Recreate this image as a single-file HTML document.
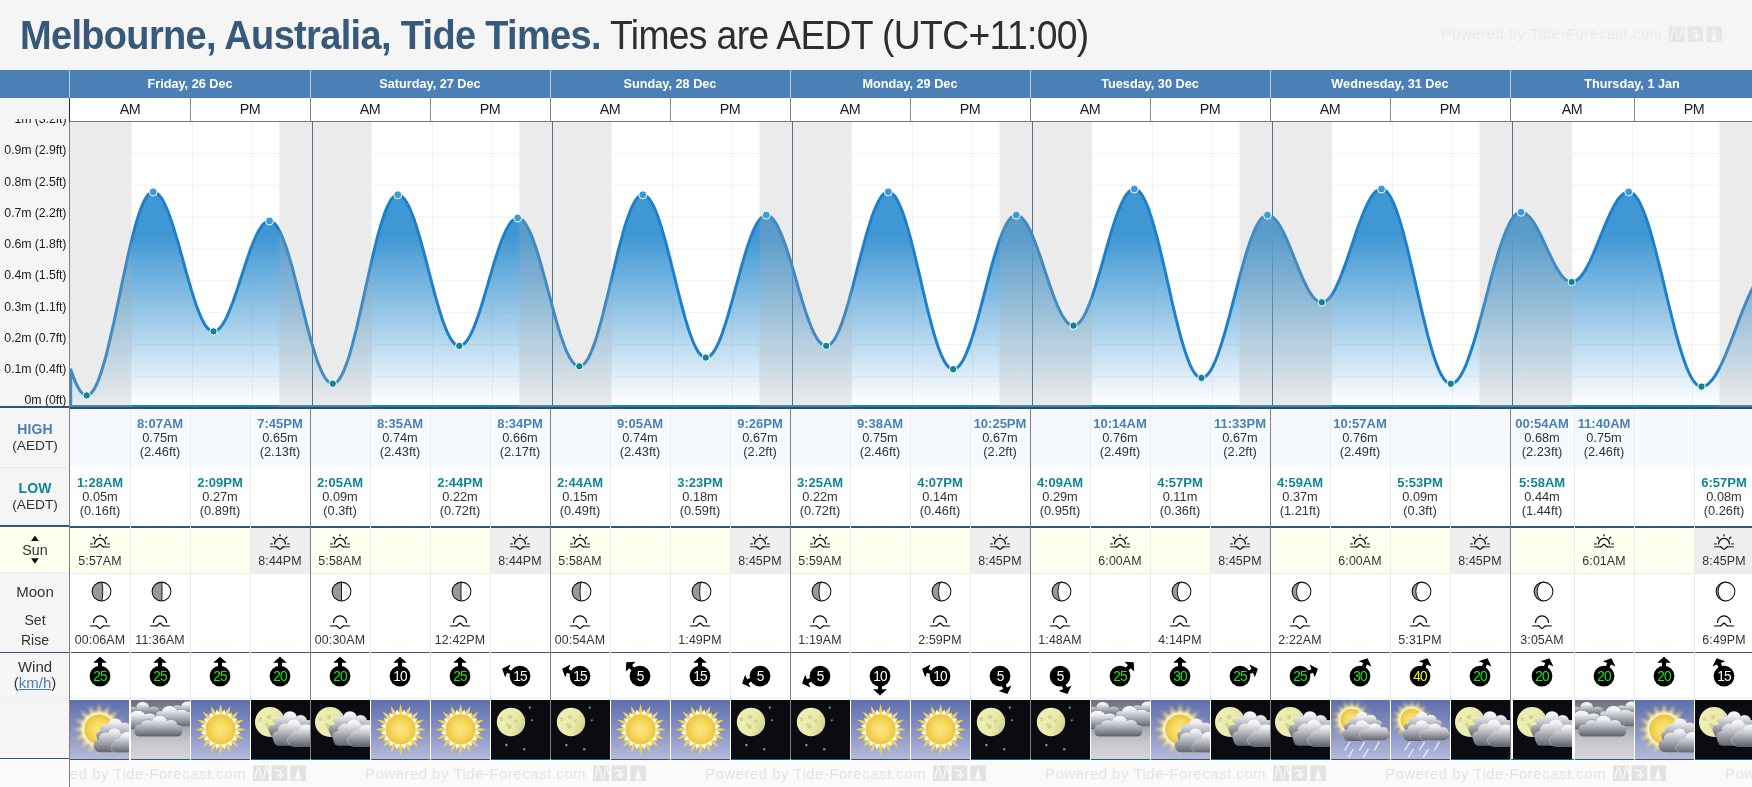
<!DOCTYPE html><html><head><meta charset="utf-8"><title>Melbourne Tide Times</title><style>
*{margin:0;padding:0;box-sizing:border-box}
html,body{width:1752px;height:787px;overflow:hidden;background:#f5f5f5}
body{font-family:"Liberation Sans",sans-serif;color:#333;position:relative}
.abs{position:absolute}
.t{position:absolute;white-space:nowrap;line-height:1;opacity:0.999}
.c{position:absolute;white-space:nowrap;line-height:1;text-align:center;transform:translateX(-50%);opacity:0.999}
</style></head><body>
<svg width="0" height="0" style="position:absolute;left:-10px;top:-10px"><defs><linearGradient id="skyd" x1="0" y1="0" x2="0" y2="1"><stop offset="0" stop-color="#5e6fad"/><stop offset="0.5" stop-color="#8791c2"/><stop offset="1" stop-color="#b3badb"/></linearGradient><linearGradient id="skyc" x1="0" y1="0" x2="0" y2="1"><stop offset="0" stop-color="#67717e"/><stop offset="0.45" stop-color="#a3a6ac"/><stop offset="0.7" stop-color="#c6c7cb"/><stop offset="1" stop-color="#d6d6da"/></linearGradient><radialGradient id="sung" cx="0.5" cy="0.5" r="0.5"><stop offset="0" stop-color="#fbe67e"/><stop offset="0.6" stop-color="#f5d75c"/><stop offset="1" stop-color="#eec33c"/></radialGradient><linearGradient id="moong" x1="0" y1="0.3" x2="1" y2="0.7"><stop offset="0" stop-color="#efefb6"/><stop offset="0.6" stop-color="#eaeaac"/><stop offset="1" stop-color="#cfcf90"/></linearGradient><filter id="bl1" x="-30%" y="-30%" width="160%" height="160%"><feGaussianBlur stdDeviation="1.35"/></filter><filter id="bl2" x="-30%" y="-30%" width="160%" height="160%"><feGaussianBlur stdDeviation="1.6"/></filter><filter id="bl05" x="-10%" y="-10%" width="120%" height="120%"><feGaussianBlur stdDeviation="0.35"/></filter><symbol id="w_sun" viewBox="0 0 59 59"><rect width="59" height="59" fill="url(#skyd)"/><path d="M29.60,4.00 L32.60,15.40 L26.60,15.40 Z M39.32,5.93 L37.73,17.61 L32.19,15.32 Z M47.56,11.44 L41.62,21.62 L37.38,17.38 Z M53.07,19.68 L43.68,26.81 L41.39,21.27 Z M55.00,29.40 L43.60,32.40 L43.60,26.40 Z M53.07,39.12 L41.39,37.53 L43.68,31.99 Z M47.56,47.36 L37.38,41.42 L41.62,37.18 Z M39.32,52.87 L32.19,43.48 L37.73,41.19 Z M29.60,54.80 L26.60,43.40 L32.60,43.40 Z M19.88,52.87 L21.47,41.19 L27.01,43.48 Z M11.64,47.36 L17.58,37.18 L21.82,41.42 Z M6.13,39.12 L15.52,31.99 L17.81,37.53 Z M4.20,29.40 L15.60,26.40 L15.60,32.40 Z M6.13,19.68 L17.81,21.27 L15.52,26.81 Z M11.64,11.44 L21.82,17.38 L17.58,21.62 Z M19.88,5.93 L27.01,15.32 L21.47,17.61 Z " fill="#f1d44e"/><path d="M33.54,9.59 L35.37,16.27 L29.29,15.06 Z M40.82,12.60 L39.96,19.48 L34.80,16.04 Z M46.40,18.18 L42.96,24.20 L39.52,19.04 Z M49.41,25.46 L43.94,29.71 L42.73,23.63 Z M49.41,33.34 L42.73,35.17 L43.94,29.09 Z M46.40,40.62 L39.52,39.76 L42.96,34.60 Z M40.82,46.20 L34.80,42.76 L39.96,39.32 Z M33.54,49.21 L29.29,43.74 L35.37,42.53 Z M25.66,49.21 L23.83,42.53 L29.91,43.74 Z M18.38,46.20 L19.24,39.32 L24.40,42.76 Z M12.80,40.62 L16.24,34.60 L19.68,39.76 Z M9.79,33.34 L15.26,29.09 L16.47,35.17 Z M9.79,25.46 L16.47,23.63 L15.26,29.71 Z M12.80,18.18 L19.68,19.04 L16.24,24.20 Z M18.38,12.60 L24.40,16.04 L19.24,19.48 Z M25.66,9.59 L29.91,15.06 L23.83,16.27 Z " fill="#fff"/><circle cx="29.6" cy="29.4" r="15.1" fill="url(#sung)"/></symbol><linearGradient id="cg1" gradientUnits="userSpaceOnUse" x1="0" y1="17" x2="0" y2="44"><stop offset="0" stop-color="#ffffff"/><stop offset="0.22" stop-color="#ececf1"/><stop offset="0.58" stop-color="#a9acb4"/><stop offset="1" stop-color="#5f636b"/></linearGradient><linearGradient id="cg2" gradientUnits="userSpaceOnUse" x1="0" y1="26" x2="0" y2="52.5"><stop offset="0" stop-color="#ffffff"/><stop offset="0.22" stop-color="#ececf1"/><stop offset="0.58" stop-color="#a9acb4"/><stop offset="1" stop-color="#5f636b"/></linearGradient><linearGradient id="cg3" gradientUnits="userSpaceOnUse" x1="0" y1="31" x2="0" y2="53"><stop offset="0" stop-color="#ffffff"/><stop offset="0.22" stop-color="#ececf1"/><stop offset="0.58" stop-color="#a9acb4"/><stop offset="1" stop-color="#5f636b"/></linearGradient><symbol id="w_pcd" viewBox="0 0 59 59"><rect width="59" height="59" fill="url(#skyd)"/><g filter="url(#bl1)"><path d="M29.10,3.80 L32.40,16.40 L25.80,16.40 Z M38.90,5.75 L37.12,18.65 L31.03,16.13 Z M47.20,11.30 L40.63,22.54 L35.96,17.87 Z M52.75,19.60 L42.37,27.47 L39.85,21.38 Z M54.70,29.40 L42.10,32.70 L42.10,26.10 Z M52.75,39.20 L39.85,37.42 L42.37,31.33 Z M47.20,47.50 L35.96,40.93 L40.63,36.26 Z M38.90,53.05 L31.03,42.67 L37.12,40.15 Z M29.10,55.00 L25.80,42.40 L32.40,42.40 Z M19.30,53.05 L21.08,40.15 L27.17,42.67 Z M11.00,47.50 L17.57,36.26 L22.24,40.93 Z M5.45,39.20 L15.83,31.33 L18.35,37.42 Z M3.50,29.40 L16.10,26.10 L16.10,32.70 Z M5.45,19.60 L18.35,21.38 L15.83,27.47 Z M11.00,11.30 L22.24,17.87 L17.57,22.54 Z M19.30,5.75 L27.17,16.13 L21.08,18.65 Z " fill="#f5e070"/></g><circle cx="29.1" cy="29.4" r="17.2" fill="#fffce8" filter="url(#bl1)"/><circle cx="29.1" cy="29.4" r="14.9" fill="url(#sung)"/><g filter="url(#bl05)"><g fill="url(#cg1)"><ellipse cx="45" cy="24.9" rx="7.118999999999999" ry="6.3"/><rect x="39.30" y="24.9" width="11.39" height="13.60"/><ellipse cx="36.6" cy="29.8" rx="6.553999999999999" ry="5.8"/><rect x="31.36" y="29.8" width="10.49" height="8.70"/><ellipse cx="54.5" cy="28.2" rx="6.327999999999999" ry="5.6"/><rect x="49.44" y="28.2" width="10.12" height="10.30"/><ellipse cx="31" cy="35.5" rx="4.7459999999999996" ry="4.2"/><rect x="27.20" y="35.5" width="7.59" height="3.00"/><ellipse cx="59" cy="33" rx="5.6499999999999995" ry="5"/><rect x="54.48" y="33" width="9.04" height="5.50"/><rect x="27.5" y="33.0" width="38.5" height="11.0" rx="5.5"/></g><g fill="url(#cg2)"><ellipse cx="44.4" cy="34.2" rx="6.327999999999999" ry="5.6"/><rect x="39.34" y="34.2" width="10.12" height="12.60"/><ellipse cx="35.6" cy="38.4" rx="6.779999999999999" ry="6"/><rect x="30.18" y="38.4" width="10.85" height="8.40"/><ellipse cx="29.4" cy="45" rx="5.8759999999999994" ry="5.2"/><rect x="24.70" y="45" width="9.40" height="1.80"/><ellipse cx="51" cy="38" rx="5.084999999999999" ry="4.5"/><rect x="46.93" y="38" width="8.14" height="8.80"/><rect x="24.5" y="41.3" width="41.5" height="11.0" rx="5.5"/></g><g fill="#c4c6ce"><ellipse cx="57.5" cy="38.5" rx="7.744999999999999" ry="6.9"/><rect x="51.22" y="38.5" width="12.55" height="8.60"/><ellipse cx="49" cy="44" rx="6.05" ry="5.4"/><rect x="44.08" y="44" width="9.84" height="3.10"/><ellipse cx="45.5" cy="48" rx="4.92" ry="4.4"/><rect x="41.1" y="41.2" width="25.3" height="11.8" rx="5.9"/></g><g fill="url(#cg3)"><ellipse cx="57.5" cy="38.5" rx="7.344999999999999" ry="6.5"/><rect x="51.62" y="38.5" width="11.75" height="8.60"/><ellipse cx="49" cy="44" rx="5.6499999999999995" ry="5"/><rect x="44.48" y="44" width="9.04" height="3.10"/><ellipse cx="45.5" cy="48" rx="4.52" ry="4"/><rect x="41.5" y="41.6" width="24.5" height="11.0" rx="5.5"/></g></g></symbol><linearGradient id="cc1" gradientUnits="userSpaceOnUse" x1="0" y1="1.5" x2="0" y2="15"><stop offset="0" stop-color="#ffffff"/><stop offset="0.22" stop-color="#ececf1"/><stop offset="0.58" stop-color="#a9acb4"/><stop offset="1" stop-color="#6a6f78"/></linearGradient><linearGradient id="cc2" gradientUnits="userSpaceOnUse" x1="0" y1="5.5" x2="0" y2="27"><stop offset="0" stop-color="#ffffff"/><stop offset="0.22" stop-color="#ececf1"/><stop offset="0.58" stop-color="#a9acb4"/><stop offset="1" stop-color="#5d626b"/></linearGradient><linearGradient id="cc3" gradientUnits="userSpaceOnUse" x1="0" y1="10.5" x2="0" y2="30"><stop offset="0" stop-color="#ffffff"/><stop offset="0.22" stop-color="#ececf1"/><stop offset="0.58" stop-color="#a9acb4"/><stop offset="1" stop-color="#5d626b"/></linearGradient><linearGradient id="cc4" gradientUnits="userSpaceOnUse" x1="0" y1="15" x2="0" y2="36.5"><stop offset="0" stop-color="#ffffff"/><stop offset="0.22" stop-color="#ececf1"/><stop offset="0.58" stop-color="#a9acb4"/><stop offset="1" stop-color="#5a5f68"/></linearGradient><symbol id="w_cld" viewBox="0 0 59 59"><rect width="59" height="59" fill="url(#skyc)"/><g filter="url(#bl05)"><g fill="#8b9098"><ellipse cx="11.7" cy="7.4" rx="6.7" ry="5.800000000000001"/><rect x="6.26" y="7.4" width="10.88" height="6.10"/><ellipse cx="22.6" cy="10.4" rx="5.9" ry="4.0"/><rect x="17.80" y="10.4" width="9.60" height="3.10"/><ellipse cx="2" cy="11" rx="5.4" ry="4.4"/><rect x="-2.40" y="11" width="8.80" height="2.50"/><rect x="-8.4" y="9.6" width="37.8" height="7.8" rx="3.9"/></g><g fill="url(#cc1)"><ellipse cx="11.7" cy="7.4" rx="6.3" ry="5.4"/><rect x="6.66" y="7.4" width="10.08" height="6.10"/><ellipse cx="22.6" cy="10.4" rx="5.5" ry="3.6"/><rect x="18.20" y="10.4" width="8.80" height="3.10"/><ellipse cx="2" cy="11" rx="5" ry="4"/><rect x="-2.00" y="11" width="8.00" height="2.50"/><rect x="-8" y="10.0" width="37" height="7.0" rx="3.5"/></g><g fill="#8b9098"><ellipse cx="56.5" cy="6.6" rx="6.6000000000000005" ry="5.6000000000000005"/><rect x="51.14" y="6.6" width="10.72" height="6.90"/><ellipse cx="46.5" cy="9" rx="5.6000000000000005" ry="3.8"/><rect x="41.94" y="9" width="9.12" height="4.50"/><rect x="40.6" y="9.6" width="29.8" height="7.8" rx="3.9"/></g><g fill="url(#cc1)"><ellipse cx="56.5" cy="6.6" rx="6.2" ry="5.2"/><rect x="51.54" y="6.6" width="9.92" height="6.90"/><ellipse cx="46.5" cy="9" rx="5.2" ry="3.4"/><rect x="42.34" y="9" width="8.32" height="4.50"/><rect x="41" y="10.0" width="29" height="7.0" rx="3.5"/></g><g fill="#8b9098"><ellipse cx="38.6" cy="11.6" rx="8.0" ry="6.0"/><rect x="32.12" y="11.6" width="12.96" height="8.90"/><ellipse cx="50.5" cy="14.2" rx="7.2" ry="4.800000000000001"/><rect x="44.66" y="14.2" width="11.68" height="6.30"/><ellipse cx="29.6" cy="14.4" rx="4.800000000000001" ry="3.6"/><rect x="25.68" y="14.4" width="7.84" height="6.10"/><ellipse cx="58" cy="16" rx="5.4" ry="4.4"/><rect x="53.60" y="16" width="8.80" height="4.50"/><rect x="26.1" y="14.6" width="44.3" height="11.8" rx="5.9"/></g><g fill="url(#cc2)"><ellipse cx="38.6" cy="11.6" rx="7.6" ry="5.6"/><rect x="32.52" y="11.6" width="12.16" height="8.90"/><ellipse cx="50.5" cy="14.2" rx="6.8" ry="4.4"/><rect x="45.06" y="14.2" width="10.88" height="6.30"/><ellipse cx="29.6" cy="14.4" rx="4.4" ry="3.2"/><rect x="26.08" y="14.4" width="7.04" height="6.10"/><ellipse cx="58" cy="16" rx="5" ry="4"/><rect x="54.00" y="16" width="8.00" height="4.50"/><rect x="26.5" y="15.0" width="43.5" height="11.0" rx="5.5"/></g><g fill="#8b9098"><ellipse cx="6.7" cy="15.6" rx="7.800000000000001" ry="5.2"/><rect x="0.38" y="15.6" width="12.64" height="7.90"/><ellipse cx="18.5" cy="17.2" rx="6.800000000000001" ry="4.2"/><rect x="12.98" y="17.2" width="11.04" height="6.30"/><ellipse cx="25" cy="20" rx="3.4" ry="3.4"/><rect x="22.20" y="20" width="5.60" height="3.50"/><rect x="-8.4" y="17.6" width="35.8" height="11.8" rx="5.9"/></g><g fill="url(#cc3)"><ellipse cx="6.7" cy="15.6" rx="7.4" ry="4.8"/><rect x="0.78" y="15.6" width="11.84" height="7.90"/><ellipse cx="18.5" cy="17.2" rx="6.4" ry="3.8"/><rect x="13.38" y="17.2" width="10.24" height="6.30"/><ellipse cx="25" cy="20" rx="3" ry="3"/><rect x="22.60" y="20" width="4.80" height="3.50"/><rect x="-8" y="18.0" width="35" height="11.0" rx="5.5"/></g><g fill="#8b9098"><ellipse cx="28.5" cy="21.6" rx="7.800000000000001" ry="6.4"/><rect x="22.18" y="21.6" width="12.64" height="10.10"/><ellipse cx="16.8" cy="24.4" rx="7.2" ry="4.800000000000001"/><rect x="10.96" y="24.4" width="11.68" height="7.30"/><ellipse cx="39.6" cy="24.4" rx="6.800000000000001" ry="4.800000000000001"/><rect x="34.08" y="24.4" width="11.04" height="7.30"/><ellipse cx="8.6" cy="28.4" rx="5.0" ry="4.4"/><rect x="4.52" y="28.4" width="8.16" height="3.30"/><ellipse cx="46.8" cy="29" rx="4.4" ry="4.4"/><rect x="43.20" y="29" width="7.20" height="2.70"/><rect x="3.4" y="26.800000000000004" width="47.8" height="9.8" rx="4.9"/></g><g fill="url(#cc4)"><ellipse cx="28.5" cy="21.6" rx="7.4" ry="6"/><rect x="22.58" y="21.6" width="11.84" height="10.10"/><ellipse cx="16.8" cy="24.4" rx="6.8" ry="4.4"/><rect x="11.36" y="24.4" width="10.88" height="7.30"/><ellipse cx="39.6" cy="24.4" rx="6.4" ry="4.4"/><rect x="34.48" y="24.4" width="10.24" height="7.30"/><ellipse cx="8.6" cy="28.4" rx="4.6" ry="4"/><rect x="4.92" y="28.4" width="7.36" height="3.30"/><ellipse cx="46.8" cy="29" rx="4" ry="4"/><rect x="43.60" y="29" width="6.40" height="2.70"/><rect x="3.8" y="27.200000000000003" width="47.0" height="9.0" rx="4.5"/></g></g></symbol><symbol id="w_ngt" viewBox="0 0 59 59"><rect width="59" height="59" fill="#0b0b12"/><circle cx="20" cy="22" r="14.2" fill="url(#moong)"/><g fill="#d0d08e" opacity="0.85"><circle cx="19" cy="17" r="2.3"/><circle cx="10.5" cy="19" r="1.9"/><circle cx="24.5" cy="21" r="2.1"/><circle cx="18.5" cy="26.6" r="2.4"/><circle cx="16.4" cy="24.4" r="1.4"/></g><g fill="#8d8d7c"><circle cx="38.8" cy="7.7" r="1.15"/><circle cx="40.8" cy="20.2" r="1"/><circle cx="15.4" cy="45.1" r="1.3"/><circle cx="33.2" cy="49.2" r="1.2"/></g></symbol><linearGradient id="ng1" gradientUnits="userSpaceOnUse" x1="0" y1="10.5" x2="0" y2="37"><stop offset="0" stop-color="#ffffff"/><stop offset="0.22" stop-color="#ececf1"/><stop offset="0.58" stop-color="#a9acb4"/><stop offset="1" stop-color="#5f636b"/></linearGradient><linearGradient id="ng2" gradientUnits="userSpaceOnUse" x1="0" y1="18" x2="0" y2="46"><stop offset="0" stop-color="#ffffff"/><stop offset="0.22" stop-color="#ececf1"/><stop offset="0.58" stop-color="#a9acb4"/><stop offset="1" stop-color="#5f636b"/></linearGradient><linearGradient id="ng3" gradientUnits="userSpaceOnUse" x1="0" y1="23" x2="0" y2="46.3"><stop offset="0" stop-color="#ffffff"/><stop offset="0.22" stop-color="#ececf1"/><stop offset="0.58" stop-color="#a9acb4"/><stop offset="1" stop-color="#5f636b"/></linearGradient><symbol id="w_ncl" viewBox="0 0 59 59"><rect width="59" height="59" fill="#0b0b12"/><circle cx="19" cy="22" r="15" fill="url(#moong)"/><g fill="#d0d08e" opacity="0.85"><circle cx="18" cy="17" r="2.3"/><circle cx="9.5" cy="19" r="1.9"/><circle cx="23.5" cy="21" r="2.1"/><circle cx="17.5" cy="26.6" r="2.4"/><circle cx="15.4" cy="24.4" r="1.4"/></g><g filter="url(#bl05)"><g fill="url(#ng1)"><ellipse cx="39" cy="17.2" rx="6.779999999999999" ry="6"/><rect x="33.58" y="17.2" width="10.85" height="14.30"/><ellipse cx="29.6" cy="22.2" rx="6.327999999999999" ry="5.6"/><rect x="24.54" y="22.2" width="10.12" height="9.30"/><ellipse cx="49.6" cy="20.6" rx="6.327999999999999" ry="5.6"/><rect x="44.54" y="20.6" width="10.12" height="10.90"/><ellipse cx="22.6" cy="29.5" rx="5.1979999999999995" ry="4.6"/><rect x="18.44" y="29.5" width="8.32" height="2.00"/><ellipse cx="57" cy="25" rx="5.6499999999999995" ry="5"/><rect x="52.48" y="25" width="9.04" height="6.50"/><rect x="18.5" y="26.0" width="47.5" height="11.0" rx="5.5"/></g><g fill="url(#ng2)"><ellipse cx="42.8" cy="25.6" rx="6.779999999999999" ry="6"/><rect x="37.38" y="25.6" width="10.85" height="14.70"/><ellipse cx="34" cy="29.8" rx="7.005999999999999" ry="6.2"/><rect x="28.40" y="29.8" width="11.21" height="10.50"/><ellipse cx="27.4" cy="36.4" rx="6.101999999999999" ry="5.4"/><rect x="22.52" y="36.4" width="9.76" height="3.90"/><ellipse cx="50" cy="29" rx="5.084999999999999" ry="4.5"/><rect x="45.93" y="29" width="8.14" height="11.30"/><rect x="22.5" y="34.8" width="43.5" height="11.0" rx="5.5"/></g><g fill="#c4c6ce"><ellipse cx="55" cy="31" rx="7.632" ry="6.800000000000001"/><rect x="48.81" y="31" width="12.37" height="9.70"/><ellipse cx="46" cy="35.6" rx="6.05" ry="5.4"/><rect x="41.08" y="35.6" width="9.84" height="5.10"/><ellipse cx="41.5" cy="40.6" rx="5.372" ry="4.800000000000001"/><rect x="37.12" y="40.6" width="8.76" height="0.10"/><ellipse cx="62" cy="33" rx="6.05" ry="5.4"/><rect x="57.08" y="33" width="9.84" height="7.70"/><rect x="36.800000000000004" y="34.800000000000004" width="29.599999999999998" height="11.8" rx="5.9"/></g><g fill="url(#ng3)"><ellipse cx="55" cy="31" rx="7.231999999999999" ry="6.4"/><rect x="49.21" y="31" width="11.57" height="9.70"/><ellipse cx="46" cy="35.6" rx="5.6499999999999995" ry="5"/><rect x="41.48" y="35.6" width="9.04" height="5.10"/><ellipse cx="41.5" cy="40.6" rx="4.9719999999999995" ry="4.4"/><rect x="37.52" y="40.6" width="7.96" height="0.10"/><ellipse cx="62" cy="33" rx="5.6499999999999995" ry="5"/><rect x="57.48" y="33" width="9.04" height="7.70"/><rect x="37.2" y="35.2" width="28.799999999999997" height="11.0" rx="5.5"/></g></g></symbol><linearGradient id="rg1" gradientUnits="userSpaceOnUse" x1="0" y1="11.5" x2="0" y2="34"><stop offset="0" stop-color="#ffffff"/><stop offset="0.22" stop-color="#ececf1"/><stop offset="0.58" stop-color="#a9acb4"/><stop offset="1" stop-color="#5f636b"/></linearGradient><linearGradient id="rg2" gradientUnits="userSpaceOnUse" x1="0" y1="19.5" x2="0" y2="41"><stop offset="0" stop-color="#ffffff"/><stop offset="0.22" stop-color="#ececf1"/><stop offset="0.58" stop-color="#a9acb4"/><stop offset="1" stop-color="#5f636b"/></linearGradient><linearGradient id="rg3" gradientUnits="userSpaceOnUse" x1="0" y1="23" x2="0" y2="40.6"><stop offset="0" stop-color="#ffffff"/><stop offset="0.22" stop-color="#ececf1"/><stop offset="0.58" stop-color="#a9acb4"/><stop offset="1" stop-color="#5f636b"/></linearGradient><symbol id="w_rn" viewBox="0 0 59 59"><rect width="59" height="59" fill="url(#skyd)"/><g filter="url(#bl1)"><path d="M20.70,0.10 L23.40,10.10 L18.00,10.10 Z M28.35,1.62 L27.02,11.89 L22.03,9.83 Z M34.84,5.96 L29.68,14.94 L25.86,11.12 Z M39.18,12.45 L30.97,18.77 L28.91,13.78 Z M40.70,20.10 L30.70,22.80 L30.70,17.40 Z M39.18,27.75 L28.91,26.42 L30.97,21.43 Z M34.84,34.24 L25.86,29.08 L29.68,25.26 Z M28.35,38.58 L22.03,30.37 L27.02,28.31 Z M20.70,40.10 L18.00,30.10 L23.40,30.10 Z M13.05,38.58 L14.38,28.31 L19.37,30.37 Z M6.56,34.24 L11.72,25.26 L15.54,29.08 Z M2.22,27.75 L10.43,21.43 L12.49,26.42 Z M0.70,20.10 L10.70,17.40 L10.70,22.80 Z M2.22,12.45 L12.49,13.78 L10.43,18.77 Z M6.56,5.96 L15.54,11.12 L11.72,14.94 Z M13.05,1.62 L19.37,9.83 L14.38,11.89 Z " fill="#f5e070"/></g><circle cx="20.7" cy="20.1" r="13.3" fill="#fffce8" filter="url(#bl1)"/><circle cx="20.7" cy="20.1" r="11.3" fill="url(#sung)"/><g filter="url(#bl05)"><g fill="url(#rg1)"><ellipse cx="30.8" cy="17" rx="5.8759999999999994" ry="5.2"/><rect x="26.10" y="17" width="9.40" height="11.50"/><ellipse cx="39.8" cy="19.8" rx="5.6499999999999995" ry="5"/><rect x="35.28" y="19.8" width="9.04" height="8.70"/><ellipse cx="22.4" cy="21.6" rx="4.9719999999999995" ry="4.4"/><rect x="18.42" y="21.6" width="7.96" height="6.90"/><ellipse cx="46.4" cy="24" rx="4.7459999999999996" ry="4.2"/><rect x="42.60" y="24" width="7.59" height="4.50"/><ellipse cx="17" cy="27" rx="4.068" ry="3.6"/><rect x="13.75" y="27" width="6.51" height="1.50"/><rect x="14.5" y="23.0" width="35.5" height="11.0" rx="5.5"/></g><g fill="url(#rg2)"><ellipse cx="30.8" cy="25.8" rx="6.327999999999999" ry="5.6"/><rect x="25.74" y="25.8" width="10.12" height="9.70"/><ellipse cx="22.2" cy="29.2" rx="5.6499999999999995" ry="5"/><rect x="17.68" y="29.2" width="9.04" height="6.30"/><ellipse cx="16.4" cy="34" rx="5.1979999999999995" ry="4.6"/><rect x="12.24" y="34" width="8.32" height="1.50"/><ellipse cx="38" cy="28" rx="4.52" ry="4"/><rect x="34.38" y="28" width="7.23" height="7.50"/><rect x="12.2" y="30.0" width="31.8" height="11.0" rx="5.5"/></g><g fill="#c4c6ce"><ellipse cx="43.8" cy="29.2" rx="6.728" ry="6.0"/><rect x="38.34" y="29.2" width="10.92" height="5.90"/><ellipse cx="52" cy="31.6" rx="5.146" ry="4.6000000000000005"/><rect x="47.80" y="31.6" width="8.39" height="3.50"/><ellipse cx="35" cy="34" rx="5.372" ry="4.800000000000001"/><rect x="30.62" y="34" width="8.76" height="1.10"/><ellipse cx="55" cy="35.5" rx="4.468" ry="4.0"/><rect x="28.1" y="29.200000000000003" width="29.900000000000002" height="11.8" rx="5.9"/></g><g fill="url(#rg3)"><ellipse cx="43.8" cy="29.2" rx="6.327999999999999" ry="5.6"/><rect x="38.74" y="29.2" width="10.12" height="5.90"/><ellipse cx="52" cy="31.6" rx="4.7459999999999996" ry="4.2"/><rect x="48.20" y="31.6" width="7.59" height="3.50"/><ellipse cx="35" cy="34" rx="4.9719999999999995" ry="4.4"/><rect x="31.02" y="34" width="7.96" height="1.10"/><ellipse cx="55" cy="35.5" rx="4.068" ry="3.6"/><rect x="28.5" y="29.6" width="29.1" height="11.0" rx="5.5"/></g></g><path d="M18.8,42.4 L14,49.9 M33.3,42.4 L28.7,49.9 M48,42.4 L43.6,49.9 M22,49.5 L17.8,57 M37.1,49.5 L32.5,57" stroke="#e6e9f4" stroke-width="1.5" stroke-linecap="round" fill="none"/></symbol></defs></svg>
<div class="t" id="t1" style="left:19.6px;top:13px;font-size:40.5px;height:44px;line-height:44px;font-weight:bold;color:#37597a;letter-spacing:-0.7px;transform-origin:0 0;transform:scaleX(0.9372)">Melbourne, Australia, Tide Times.</div>
<div class="t" id="t2" style="left:610px;top:13px;font-size:40.5px;height:44px;line-height:44px;color:#2e2e2e;letter-spacing:-0.7px;transform-origin:0 0;transform:scaleX(0.9203)">Times are AEDT (UTC+11:00)</div>
<div class="abs" style="left:0;top:70px;width:1752px;height:28px;background:#4a80b5"></div>
<div class="abs" style="left:69px;top:70px;width:1px;height:28px;background:#b9cde2"></div>
<div class="c" style="left:190.0px;top:77.8px;font-size:12.7px;font-weight:bold;color:#fff">Friday, 26 Dec</div>
<div class="abs" style="left:310px;top:70px;width:1px;height:28px;background:#b9cde2"></div>
<div class="c" style="left:430.0px;top:77.8px;font-size:12.7px;font-weight:bold;color:#fff">Saturday, 27 Dec</div>
<div class="abs" style="left:550px;top:70px;width:1px;height:28px;background:#b9cde2"></div>
<div class="c" style="left:670.0px;top:77.8px;font-size:12.7px;font-weight:bold;color:#fff">Sunday, 28 Dec</div>
<div class="abs" style="left:790px;top:70px;width:1px;height:28px;background:#b9cde2"></div>
<div class="c" style="left:910.0px;top:77.8px;font-size:12.7px;font-weight:bold;color:#fff">Monday, 29 Dec</div>
<div class="abs" style="left:1030px;top:70px;width:1px;height:28px;background:#b9cde2"></div>
<div class="c" style="left:1150.0px;top:77.8px;font-size:12.7px;font-weight:bold;color:#fff">Tuesday, 30 Dec</div>
<div class="abs" style="left:1270px;top:70px;width:1px;height:28px;background:#b9cde2"></div>
<div class="c" style="left:1390.0px;top:77.8px;font-size:12.7px;font-weight:bold;color:#fff">Wednesday, 31 Dec</div>
<div class="abs" style="left:1510px;top:70px;width:1px;height:28px;background:#b9cde2"></div>
<div class="c" style="left:1632.0px;top:77.8px;font-size:12.7px;font-weight:bold;color:#fff">Thursday, 1 Jan</div>
<div class="abs" style="left:70px;top:98px;width:1682px;height:23px;background:#fff"></div>
<div class="abs" style="left:69px;top:121px;width:1683px;height:1px;background:#777"></div>
<div class="abs" style="left:69px;top:98px;width:1px;height:24px;background:#1c2b3a"></div>
<div class="abs" style="left:190px;top:98px;width:1px;height:23px;background:#7f8f9f"></div>
<div class="c" style="left:130.0px;top:102.4px;font-size:14.3px;letter-spacing:-0.5px;color:#1d1d1d">AM</div>
<div class="c" style="left:250.0px;top:102.4px;font-size:14.3px;letter-spacing:-0.5px;color:#1d1d1d">PM</div>
<div class="abs" style="left:310px;top:98px;width:1px;height:23px;background:#6d8296"></div>
<div class="abs" style="left:430px;top:98px;width:1px;height:23px;background:#7f8f9f"></div>
<div class="c" style="left:370.0px;top:102.4px;font-size:14.3px;letter-spacing:-0.5px;color:#1d1d1d">AM</div>
<div class="c" style="left:490.0px;top:102.4px;font-size:14.3px;letter-spacing:-0.5px;color:#1d1d1d">PM</div>
<div class="abs" style="left:550px;top:98px;width:1px;height:23px;background:#6d8296"></div>
<div class="abs" style="left:670px;top:98px;width:1px;height:23px;background:#7f8f9f"></div>
<div class="c" style="left:610.0px;top:102.4px;font-size:14.3px;letter-spacing:-0.5px;color:#1d1d1d">AM</div>
<div class="c" style="left:730.0px;top:102.4px;font-size:14.3px;letter-spacing:-0.5px;color:#1d1d1d">PM</div>
<div class="abs" style="left:790px;top:98px;width:1px;height:23px;background:#6d8296"></div>
<div class="abs" style="left:910px;top:98px;width:1px;height:23px;background:#7f8f9f"></div>
<div class="c" style="left:850.0px;top:102.4px;font-size:14.3px;letter-spacing:-0.5px;color:#1d1d1d">AM</div>
<div class="c" style="left:970.0px;top:102.4px;font-size:14.3px;letter-spacing:-0.5px;color:#1d1d1d">PM</div>
<div class="abs" style="left:1030px;top:98px;width:1px;height:23px;background:#6d8296"></div>
<div class="abs" style="left:1150px;top:98px;width:1px;height:23px;background:#7f8f9f"></div>
<div class="c" style="left:1090.0px;top:102.4px;font-size:14.3px;letter-spacing:-0.5px;color:#1d1d1d">AM</div>
<div class="c" style="left:1210.0px;top:102.4px;font-size:14.3px;letter-spacing:-0.5px;color:#1d1d1d">PM</div>
<div class="abs" style="left:1270px;top:98px;width:1px;height:23px;background:#6d8296"></div>
<div class="abs" style="left:1390px;top:98px;width:1px;height:23px;background:#7f8f9f"></div>
<div class="c" style="left:1330.0px;top:102.4px;font-size:14.3px;letter-spacing:-0.5px;color:#1d1d1d">AM</div>
<div class="c" style="left:1450.0px;top:102.4px;font-size:14.3px;letter-spacing:-0.5px;color:#1d1d1d">PM</div>
<div class="abs" style="left:1510px;top:98px;width:1px;height:23px;background:#6d8296"></div>
<div class="abs" style="left:1634px;top:98px;width:1px;height:23px;background:#7f8f9f"></div>
<div class="c" style="left:1572.0px;top:102.4px;font-size:14.3px;letter-spacing:-0.5px;color:#1d1d1d">AM</div>
<div class="c" style="left:1694.0px;top:102.4px;font-size:14.3px;letter-spacing:-0.5px;color:#1d1d1d">PM</div>

<div class="abs" style="left:0;top:119px;width:69px;height:287px;overflow:hidden">
<div class="t" style="right:2.6px;top:275.35px;font-size:12.3px;color:#1c1c1c;letter-spacing:-0.07px">0m (0ft)</div>
<div class="t" style="right:2.6px;top:244.10px;font-size:12.3px;color:#1c1c1c;letter-spacing:-0.07px">0.1m (0.4ft)</div>
<div class="t" style="right:2.6px;top:212.85px;font-size:12.3px;color:#1c1c1c;letter-spacing:-0.07px">0.2m (0.7ft)</div>
<div class="t" style="right:2.6px;top:181.60px;font-size:12.3px;color:#1c1c1c;letter-spacing:-0.07px">0.3m (1.1ft)</div>
<div class="t" style="right:2.6px;top:150.35px;font-size:12.3px;color:#1c1c1c;letter-spacing:-0.07px">0.4m (1.5ft)</div>
<div class="t" style="right:2.6px;top:119.10px;font-size:12.3px;color:#1c1c1c;letter-spacing:-0.07px">0.6m (1.8ft)</div>
<div class="t" style="right:2.6px;top:87.85px;font-size:12.3px;color:#1c1c1c;letter-spacing:-0.07px">0.7m (2.2ft)</div>
<div class="t" style="right:2.6px;top:56.60px;font-size:12.3px;color:#1c1c1c;letter-spacing:-0.07px">0.8m (2.5ft)</div>
<div class="t" style="right:2.6px;top:25.35px;font-size:12.3px;color:#1c1c1c;letter-spacing:-0.07px">0.9m (2.9ft)</div>
<div class="t" style="right:2.6px;top:-5.90px;font-size:12.3px;color:#1c1c1c;letter-spacing:-0.07px">1m (3.2ft)</div>
</div>
<svg class="abs" style="left:70px;top:122px" width="1682" height="287" viewBox="0 0 1682 287">
<defs><linearGradient id="tg" x1="0" y1="113" x2="0" y2="283" gradientUnits="userSpaceOnUse"><stop offset="0" stop-color="#3f97d3" stop-opacity="1"/><stop offset="1" stop-color="#3f97d3" stop-opacity="0"/></linearGradient></defs>
<rect x="0" y="0" width="1682" height="284" fill="#fff"/>
<rect x="61.5" y="253.84" width="147.8" height="1" fill="#f2f2f2"/>
<rect x="301.7" y="253.84" width="147.7" height="1" fill="#f2f2f2"/>
<rect x="541.7" y="253.84" width="147.8" height="1" fill="#f2f2f2"/>
<rect x="781.8" y="253.84" width="147.7" height="1" fill="#f2f2f2"/>
<rect x="1022.0" y="253.84" width="147.5" height="1" fill="#f2f2f2"/>
<rect x="1262.0" y="253.84" width="147.5" height="1" fill="#f2f2f2"/>
<rect x="1502.2" y="253.84" width="147.3" height="1" fill="#f2f2f2"/>
<rect x="61.5" y="221.98" width="147.8" height="1" fill="#f2f2f2"/>
<rect x="301.7" y="221.98" width="147.7" height="1" fill="#f2f2f2"/>
<rect x="541.7" y="221.98" width="147.8" height="1" fill="#f2f2f2"/>
<rect x="781.8" y="221.98" width="147.7" height="1" fill="#f2f2f2"/>
<rect x="1022.0" y="221.98" width="147.5" height="1" fill="#f2f2f2"/>
<rect x="1262.0" y="221.98" width="147.5" height="1" fill="#f2f2f2"/>
<rect x="1502.2" y="221.98" width="147.3" height="1" fill="#f2f2f2"/>
<rect x="61.5" y="190.12" width="147.8" height="1" fill="#f2f2f2"/>
<rect x="301.7" y="190.12" width="147.7" height="1" fill="#f2f2f2"/>
<rect x="541.7" y="190.12" width="147.8" height="1" fill="#f2f2f2"/>
<rect x="781.8" y="190.12" width="147.7" height="1" fill="#f2f2f2"/>
<rect x="1022.0" y="190.12" width="147.5" height="1" fill="#f2f2f2"/>
<rect x="1262.0" y="190.12" width="147.5" height="1" fill="#f2f2f2"/>
<rect x="1502.2" y="190.12" width="147.3" height="1" fill="#f2f2f2"/>
<rect x="61.5" y="158.26" width="147.8" height="1" fill="#f2f2f2"/>
<rect x="301.7" y="158.26" width="147.7" height="1" fill="#f2f2f2"/>
<rect x="541.7" y="158.26" width="147.8" height="1" fill="#f2f2f2"/>
<rect x="781.8" y="158.26" width="147.7" height="1" fill="#f2f2f2"/>
<rect x="1022.0" y="158.26" width="147.5" height="1" fill="#f2f2f2"/>
<rect x="1262.0" y="158.26" width="147.5" height="1" fill="#f2f2f2"/>
<rect x="1502.2" y="158.26" width="147.3" height="1" fill="#f2f2f2"/>
<rect x="61.5" y="126.40" width="147.8" height="1" fill="#f2f2f2"/>
<rect x="301.7" y="126.40" width="147.7" height="1" fill="#f2f2f2"/>
<rect x="541.7" y="126.40" width="147.8" height="1" fill="#f2f2f2"/>
<rect x="781.8" y="126.40" width="147.7" height="1" fill="#f2f2f2"/>
<rect x="1022.0" y="126.40" width="147.5" height="1" fill="#f2f2f2"/>
<rect x="1262.0" y="126.40" width="147.5" height="1" fill="#f2f2f2"/>
<rect x="1502.2" y="126.40" width="147.3" height="1" fill="#f2f2f2"/>
<rect x="61.5" y="94.54" width="147.8" height="1" fill="#f2f2f2"/>
<rect x="301.7" y="94.54" width="147.7" height="1" fill="#f2f2f2"/>
<rect x="541.7" y="94.54" width="147.8" height="1" fill="#f2f2f2"/>
<rect x="781.8" y="94.54" width="147.7" height="1" fill="#f2f2f2"/>
<rect x="1022.0" y="94.54" width="147.5" height="1" fill="#f2f2f2"/>
<rect x="1262.0" y="94.54" width="147.5" height="1" fill="#f2f2f2"/>
<rect x="1502.2" y="94.54" width="147.3" height="1" fill="#f2f2f2"/>
<rect x="61.5" y="62.68" width="147.8" height="1" fill="#f2f2f2"/>
<rect x="301.7" y="62.68" width="147.7" height="1" fill="#f2f2f2"/>
<rect x="541.7" y="62.68" width="147.8" height="1" fill="#f2f2f2"/>
<rect x="781.8" y="62.68" width="147.7" height="1" fill="#f2f2f2"/>
<rect x="1022.0" y="62.68" width="147.5" height="1" fill="#f2f2f2"/>
<rect x="1262.0" y="62.68" width="147.5" height="1" fill="#f2f2f2"/>
<rect x="1502.2" y="62.68" width="147.3" height="1" fill="#f2f2f2"/>
<rect x="61.5" y="30.82" width="147.8" height="1" fill="#f2f2f2"/>
<rect x="301.7" y="30.82" width="147.7" height="1" fill="#f2f2f2"/>
<rect x="541.7" y="30.82" width="147.8" height="1" fill="#f2f2f2"/>
<rect x="781.8" y="30.82" width="147.7" height="1" fill="#f2f2f2"/>
<rect x="1022.0" y="30.82" width="147.5" height="1" fill="#f2f2f2"/>
<rect x="1262.0" y="30.82" width="147.5" height="1" fill="#f2f2f2"/>
<rect x="1502.2" y="30.82" width="147.3" height="1" fill="#f2f2f2"/>
<rect x="61.5" y="-1.04" width="147.8" height="1" fill="#f2f2f2"/>
<rect x="301.7" y="-1.04" width="147.7" height="1" fill="#f2f2f2"/>
<rect x="541.7" y="-1.04" width="147.8" height="1" fill="#f2f2f2"/>
<rect x="781.8" y="-1.04" width="147.7" height="1" fill="#f2f2f2"/>
<rect x="1022.0" y="-1.04" width="147.5" height="1" fill="#f2f2f2"/>
<rect x="1262.0" y="-1.04" width="147.5" height="1" fill="#f2f2f2"/>
<rect x="1502.2" y="-1.04" width="147.3" height="1" fill="#f2f2f2"/>
<rect x="122" y="0" width="1" height="284" fill="#f1f1f1"/>
<rect x="182" y="0" width="1" height="284" fill="#f1f1f1"/>
<rect x="362" y="0" width="1" height="284" fill="#f1f1f1"/>
<rect x="422" y="0" width="1" height="284" fill="#f1f1f1"/>
<rect x="602" y="0" width="1" height="284" fill="#f1f1f1"/>
<rect x="662" y="0" width="1" height="284" fill="#f1f1f1"/>
<rect x="842" y="0" width="1" height="284" fill="#f1f1f1"/>
<rect x="902" y="0" width="1" height="284" fill="#f1f1f1"/>
<rect x="1082" y="0" width="1" height="284" fill="#f1f1f1"/>
<rect x="1142" y="0" width="1" height="284" fill="#f1f1f1"/>
<rect x="1322" y="0" width="1" height="284" fill="#f1f1f1"/>
<rect x="1382" y="0" width="1" height="284" fill="#f1f1f1"/>
<rect x="1562" y="0" width="1" height="284" fill="#f1f1f1"/>
<rect x="1622" y="0" width="1" height="284" fill="#f1f1f1"/>
<rect x="242" y="0" width="1" height="284" fill="#3c5c81"/>
<rect x="482" y="0" width="1" height="284" fill="#3c5c81"/>
<rect x="722" y="0" width="1" height="284" fill="#3c5c81"/>
<rect x="962" y="0" width="1" height="284" fill="#3c5c81"/>
<rect x="1202" y="0" width="1" height="284" fill="#3c5c81"/>
<rect x="1442" y="0" width="1" height="284" fill="#3c5c81"/>
<path d="M0.5,246.6 L0.5,246.7 L2.0,251.1 L3.5,255.2 L4.9,258.9 L6.4,262.2 L7.9,265.1 L9.3,267.6 L10.8,269.7 L12.3,271.3 L13.7,272.4 L15.2,273.1 L16.7,273.4 L18.1,273.1 L19.6,272.4 L21.1,271.1 L22.6,269.4 L24.1,267.2 L25.5,264.6 L27.0,261.5 L28.5,257.9 L30.0,253.9 L31.4,249.6 L32.9,244.8 L34.4,239.7 L35.9,234.3 L37.4,228.5 L38.8,222.5 L40.3,216.2 L41.8,209.7 L43.3,203.1 L44.7,196.2 L46.2,189.3 L47.7,182.3 L49.2,175.2 L50.7,168.1 L52.1,161.0 L53.6,154.0 L55.1,147.0 L56.6,140.2 L58.0,133.5 L59.5,127.0 L61.0,120.7 L62.5,114.7 L64.0,109.0 L65.4,103.5 L66.9,98.4 L68.4,93.7 L69.9,89.3 L71.3,85.3 L72.8,81.8 L74.3,78.7 L75.8,76.0 L77.3,73.8 L78.7,72.1 L80.2,70.9 L81.7,70.1 L83.2,69.9 L84.6,70.1 L86.1,70.7 L87.6,71.7 L89.1,73.1 L90.5,74.9 L92.0,77.1 L93.5,79.7 L94.9,82.6 L96.4,85.8 L97.9,89.4 L99.4,93.2 L100.8,97.3 L102.3,101.7 L103.8,106.3 L105.2,111.1 L106.7,116.1 L108.2,121.2 L109.7,126.4 L111.1,131.6 L112.6,137.0 L114.1,142.3 L115.5,147.6 L117.0,152.9 L118.5,158.1 L120.0,163.2 L121.4,168.2 L122.9,173.0 L124.4,177.6 L125.8,181.9 L127.3,186.1 L128.8,189.9 L130.3,193.5 L131.7,196.7 L133.2,199.6 L134.7,202.2 L136.1,204.4 L137.6,206.2 L139.1,207.6 L140.6,208.6 L142.0,209.2 L143.5,209.4 L145.0,209.2 L146.4,208.7 L147.9,207.7 L149.4,206.4 L150.9,204.8 L152.3,202.8 L153.8,200.4 L155.3,197.8 L156.8,194.8 L158.2,191.6 L159.7,188.1 L161.2,184.4 L162.7,180.5 L164.1,176.4 L165.6,172.1 L167.1,167.7 L168.6,163.3 L170.0,158.7 L171.5,154.2 L173.0,149.6 L174.4,145.1 L175.9,140.6 L177.4,136.2 L178.9,132.0 L180.3,127.9 L181.8,124.0 L183.3,120.3 L184.8,116.8 L186.2,113.5 L187.7,110.6 L189.2,107.9 L190.7,105.6 L192.1,103.6 L193.6,101.9 L195.1,100.6 L196.6,99.7 L198.0,99.1 L199.5,98.9 L201.0,99.2 L202.4,99.8 L203.9,100.9 L205.4,102.4 L206.9,104.3 L208.3,106.6 L209.8,109.4 L211.3,112.5 L212.8,115.9 L214.2,119.7 L215.7,123.8 L217.2,128.3 L218.6,133.0 L220.1,137.9 L221.6,143.1 L223.1,148.5 L224.5,154.1 L226.0,159.8 L227.5,165.6 L229.0,171.4 L230.4,177.4 L231.9,183.3 L233.4,189.2 L234.8,195.1 L236.3,200.9 L237.8,206.6 L239.3,212.2 L240.7,217.6 L242.2,222.7 L243.7,227.7 L245.2,232.4 L246.6,236.8 L248.1,241.0 L249.6,244.8 L251.0,248.2 L252.5,251.3 L254.0,254.0 L255.5,256.4 L256.9,258.3 L258.4,259.8 L259.9,260.9 L261.4,261.5 L262.8,261.7 L264.3,261.5 L265.8,260.8 L267.3,259.6 L268.7,257.9 L270.2,255.8 L271.7,253.2 L273.2,250.2 L274.6,246.7 L276.1,242.9 L277.6,238.7 L279.1,234.1 L280.6,229.1 L282.0,223.9 L283.5,218.3 L285.0,212.5 L286.5,206.5 L287.9,200.3 L289.4,193.9 L290.9,187.3 L292.4,180.7 L293.9,174.0 L295.3,167.3 L296.8,160.5 L298.3,153.8 L299.8,147.2 L301.2,140.6 L302.7,134.2 L304.2,128.0 L305.7,122.0 L307.1,116.2 L308.6,110.6 L310.1,105.4 L311.6,100.5 L313.1,95.9 L314.5,91.6 L316.0,87.8 L317.5,84.3 L319.0,81.3 L320.4,78.7 L321.9,76.6 L323.4,74.9 L324.9,73.7 L326.4,73.0 L327.8,72.8 L329.3,73.0 L330.8,73.7 L332.3,74.8 L333.8,76.3 L335.3,78.3 L336.8,80.6 L338.3,83.4 L339.8,86.5 L341.3,90.1 L342.8,93.9 L344.3,98.1 L345.8,102.5 L347.3,107.3 L348.8,112.3 L350.3,117.4 L351.8,122.8 L353.3,128.3 L354.8,134.0 L356.3,139.7 L357.8,145.5 L359.3,151.3 L360.8,157.0 L362.3,162.8 L363.8,168.4 L365.3,173.9 L366.8,179.3 L368.3,184.5 L369.8,189.4 L371.3,194.2 L372.8,198.7 L374.3,202.8 L375.8,206.7 L377.3,210.2 L378.8,213.3 L380.3,216.1 L381.8,218.5 L383.3,220.4 L384.8,222.0 L386.3,223.1 L387.8,223.7 L389.3,223.9 L390.8,223.7 L392.3,223.1 L393.8,222.1 L395.3,220.7 L396.8,218.8 L398.3,216.6 L399.8,214.0 L401.3,211.1 L402.8,207.9 L404.3,204.3 L405.8,200.4 L407.3,196.3 L408.8,192.0 L410.3,187.4 L411.8,182.7 L413.3,177.8 L414.8,172.8 L416.3,167.7 L417.8,162.6 L419.2,157.4 L420.7,152.3 L422.2,147.2 L423.7,142.2 L425.2,137.3 L426.7,132.6 L428.2,128.0 L429.7,123.7 L431.2,119.5 L432.7,115.7 L434.2,112.1 L435.7,108.9 L437.2,105.9 L438.7,103.4 L440.2,101.2 L441.7,99.3 L443.2,97.9 L444.7,96.9 L446.2,96.2 L447.7,96.0 L449.1,96.2 L450.6,96.9 L452.1,97.9 L453.5,99.3 L455.0,101.2 L456.5,103.4 L457.9,106.0 L459.4,108.9 L460.9,112.2 L462.4,115.8 L463.8,119.7 L465.3,123.9 L466.8,128.4 L468.2,133.1 L469.7,138.0 L471.2,143.1 L472.6,148.3 L474.1,153.7 L475.6,159.1 L477.0,164.6 L478.5,170.2 L480.0,175.7 L481.4,181.2 L482.9,186.7 L484.4,192.0 L485.8,197.2 L487.3,202.3 L488.8,207.2 L490.2,211.9 L491.7,216.4 L493.2,220.6 L494.6,224.5 L496.1,228.1 L497.6,231.4 L499.1,234.4 L500.5,237.0 L502.0,239.2 L503.5,241.0 L504.9,242.4 L506.4,243.5 L507.9,244.1 L509.3,244.3 L510.8,244.1 L512.3,243.4 L513.8,242.2 L515.2,240.7 L516.7,238.6 L518.2,236.2 L519.7,233.3 L521.1,230.1 L522.6,226.4 L524.1,222.4 L525.6,218.1 L527.1,213.4 L528.5,208.4 L530.0,203.2 L531.5,197.8 L533.0,192.1 L534.4,186.2 L535.9,180.2 L537.4,174.1 L538.9,167.9 L540.3,161.7 L541.8,155.4 L543.3,149.2 L544.8,143.0 L546.2,136.8 L547.7,130.8 L549.2,125.0 L550.7,119.3 L552.2,113.9 L553.6,108.6 L555.1,103.7 L556.6,99.0 L558.1,94.7 L559.5,90.7 L561.0,87.0 L562.5,83.8 L564.0,80.9 L565.4,78.4 L566.9,76.4 L568.4,74.8 L569.9,73.7 L571.4,73.0 L572.8,72.8 L574.3,73.0 L575.8,73.6 L577.2,74.7 L578.7,76.2 L580.2,78.2 L581.6,80.5 L583.1,83.2 L584.6,86.3 L586.0,89.8 L587.5,93.6 L588.9,97.7 L590.4,102.1 L591.9,106.8 L593.3,111.8 L594.8,117.0 L596.3,122.3 L597.7,127.9 L599.2,133.6 L600.7,139.4 L602.1,145.3 L603.6,151.2 L605.1,157.2 L606.5,163.1 L608.0,169.0 L609.5,174.8 L610.9,180.5 L612.4,186.0 L613.9,191.4 L615.3,196.6 L616.8,201.5 L618.2,206.2 L619.7,210.7 L621.2,214.8 L622.6,218.6 L624.1,222.1 L625.6,225.2 L627.0,227.9 L628.5,230.2 L630.0,232.1 L631.4,233.6 L632.9,234.7 L634.4,235.4 L635.8,235.6 L637.3,235.4 L638.8,234.7 L640.3,233.7 L641.7,232.3 L643.2,230.4 L644.7,228.2 L646.2,225.6 L647.6,222.6 L649.1,219.3 L650.6,215.7 L652.1,211.7 L653.5,207.5 L655.0,203.1 L656.5,198.4 L658.0,193.5 L659.4,188.4 L660.9,183.2 L662.4,177.9 L663.9,172.5 L665.3,167.1 L666.8,161.6 L668.3,156.2 L669.8,150.8 L671.2,145.5 L672.7,140.3 L674.2,135.2 L675.7,130.3 L677.1,125.6 L678.6,121.2 L680.1,117.0 L681.6,113.0 L683.0,109.4 L684.5,106.1 L686.0,103.1 L687.5,100.5 L689.0,98.3 L690.4,96.5 L691.9,95.0 L693.4,94.0 L694.9,93.3 L696.3,93.1 L697.8,93.3 L699.3,93.9 L700.8,94.9 L702.3,96.3 L703.8,98.1 L705.3,100.3 L706.8,102.8 L708.3,105.6 L709.8,108.8 L711.3,112.3 L712.8,116.1 L714.3,120.1 L715.8,124.4 L717.3,128.8 L718.8,133.5 L720.3,138.3 L721.8,143.3 L723.3,148.3 L724.8,153.4 L726.3,158.5 L727.7,163.7 L729.2,168.8 L730.7,173.8 L732.2,178.8 L733.7,183.6 L735.2,188.2 L736.7,192.7 L738.2,197.0 L739.7,201.0 L741.2,204.8 L742.7,208.3 L744.2,211.5 L745.7,214.3 L747.2,216.8 L748.7,219.0 L750.2,220.7 L751.7,222.1 L753.2,223.1 L754.7,223.7 L756.2,223.9 L757.6,223.7 L759.1,223.1 L760.6,222.0 L762.1,220.5 L763.6,218.6 L765.1,216.3 L766.5,213.6 L768.0,210.6 L769.5,207.1 L771.0,203.4 L772.5,199.3 L773.9,194.9 L775.4,190.3 L776.9,185.4 L778.4,180.3 L779.8,175.1 L781.3,169.6 L782.8,164.1 L784.3,158.4 L785.8,152.7 L787.2,146.9 L788.7,141.2 L790.2,135.4 L791.7,129.8 L793.2,124.2 L794.6,118.8 L796.1,113.5 L797.6,108.4 L799.1,103.5 L800.6,98.9 L802.0,94.5 L803.5,90.4 L805.0,86.7 L806.5,83.3 L808.0,80.2 L809.4,77.5 L810.9,75.2 L812.4,73.3 L813.9,71.8 L815.4,70.7 L816.9,70.1 L818.3,69.9 L819.8,70.1 L821.3,70.8 L822.8,71.9 L824.2,73.5 L825.7,75.5 L827.2,77.9 L828.6,80.7 L830.1,84.0 L831.6,87.6 L833.1,91.5 L834.5,95.8 L836.0,100.5 L837.5,105.4 L839.0,110.6 L840.4,116.0 L841.9,121.7 L843.4,127.6 L844.9,133.6 L846.3,139.7 L847.8,145.9 L849.3,152.2 L850.8,158.5 L852.2,164.9 L853.7,171.2 L855.2,177.4 L856.6,183.5 L858.1,189.5 L859.6,195.4 L861.1,201.0 L862.5,206.5 L864.0,211.7 L865.5,216.6 L867.0,221.2 L868.4,225.5 L869.9,229.5 L871.4,233.1 L872.9,236.4 L874.3,239.2 L875.8,241.6 L877.3,243.6 L878.7,245.2 L880.2,246.3 L881.7,247.0 L883.2,247.2 L884.7,247.0 L886.2,246.3 L887.7,245.3 L889.2,243.8 L890.7,241.9 L892.2,239.6 L893.7,236.9 L895.2,233.8 L896.7,230.4 L898.2,226.6 L899.7,222.6 L901.2,218.2 L902.7,213.6 L904.2,208.7 L905.7,203.6 L907.2,198.3 L908.7,192.9 L910.2,187.3 L911.7,181.6 L913.2,175.9 L914.7,170.2 L916.2,164.4 L917.7,158.7 L919.2,153.0 L920.7,147.5 L922.2,142.0 L923.7,136.7 L925.2,131.6 L926.7,126.8 L928.2,122.1 L929.7,117.8 L931.2,113.7 L932.7,109.9 L934.2,106.5 L935.7,103.5 L937.2,100.8 L938.7,98.5 L940.2,96.6 L941.7,95.1 L943.2,94.0 L944.7,93.3 L946.2,93.1 L947.6,93.3 L949.1,93.8 L950.6,94.7 L952.0,96.0 L953.5,97.6 L955.0,99.5 L956.5,101.7 L957.9,104.2 L959.4,107.0 L960.9,110.1 L962.3,113.4 L963.8,117.0 L965.3,120.7 L966.8,124.7 L968.2,128.8 L969.7,133.0 L971.2,137.3 L972.6,141.7 L974.1,146.1 L975.6,150.6 L977.0,155.0 L978.5,159.4 L980.0,163.7 L981.5,167.9 L982.9,172.0 L984.4,176.0 L985.9,179.7 L987.3,183.3 L988.8,186.6 L990.3,189.7 L991.7,192.5 L993.2,195.0 L994.7,197.3 L996.2,199.2 L997.6,200.8 L999.1,202.0 L1000.6,202.9 L1002.0,203.4 L1003.5,203.6 L1005.0,203.4 L1006.5,202.8 L1008.0,201.8 L1009.4,200.4 L1010.9,198.6 L1012.4,196.5 L1013.9,194.0 L1015.4,191.2 L1016.9,188.0 L1018.3,184.5 L1019.8,180.7 L1021.3,176.7 L1022.8,172.4 L1024.3,167.9 L1025.8,163.2 L1027.2,158.4 L1028.7,153.4 L1030.2,148.3 L1031.7,143.1 L1033.2,137.9 L1034.7,132.7 L1036.1,127.4 L1037.6,122.3 L1039.1,117.2 L1040.6,112.2 L1042.1,107.3 L1043.6,102.6 L1045.0,98.1 L1046.5,93.9 L1048.0,89.8 L1049.5,86.1 L1051.0,82.6 L1052.5,79.4 L1053.9,76.6 L1055.4,74.1 L1056.9,71.9 L1058.4,70.2 L1059.9,68.8 L1061.4,67.8 L1062.8,67.2 L1064.3,67.0 L1065.8,67.2 L1067.3,67.9 L1068.8,69.0 L1070.3,70.6 L1071.8,72.7 L1073.3,75.1 L1074.8,78.0 L1076.3,81.3 L1077.8,85.0 L1079.3,89.1 L1080.7,93.5 L1082.2,98.2 L1083.7,103.3 L1085.2,108.6 L1086.7,114.2 L1088.2,120.0 L1089.7,126.1 L1091.2,132.3 L1092.7,138.6 L1094.2,145.0 L1095.7,151.6 L1097.2,158.1 L1098.7,164.7 L1100.2,171.3 L1101.6,177.9 L1103.1,184.3 L1104.6,190.6 L1106.1,196.8 L1107.6,202.9 L1109.1,208.7 L1110.6,214.3 L1112.1,219.6 L1113.6,224.7 L1115.1,229.4 L1116.6,233.8 L1118.1,237.9 L1119.6,241.6 L1121.1,244.9 L1122.5,247.8 L1124.0,250.2 L1125.5,252.3 L1127.0,253.9 L1128.5,255.0 L1130.0,255.7 L1131.5,255.9 L1133.0,255.7 L1134.5,255.1 L1136.0,254.1 L1137.5,252.6 L1139.0,250.8 L1140.5,248.6 L1142.0,246.0 L1143.5,243.0 L1145.0,239.7 L1146.5,236.0 L1148.0,232.1 L1149.5,227.8 L1151.0,223.3 L1152.5,218.5 L1154.0,213.5 L1155.5,208.3 L1157.0,203.0 L1158.5,197.5 L1160.0,191.8 L1161.5,186.1 L1163.0,180.3 L1164.5,174.5 L1166.0,168.7 L1167.5,162.9 L1169.0,157.2 L1170.5,151.6 L1172.0,146.1 L1173.5,140.7 L1175.0,135.5 L1176.5,130.5 L1178.0,125.7 L1179.5,121.2 L1181.0,117.0 L1182.5,113.0 L1184.0,109.4 L1185.5,106.1 L1187.0,103.1 L1188.5,100.5 L1190.0,98.3 L1191.5,96.4 L1193.0,95.0 L1194.5,94.0 L1196.0,93.3 L1197.5,93.1 L1199.0,93.3 L1200.4,93.8 L1201.9,94.5 L1203.4,95.6 L1204.8,97.0 L1206.3,98.7 L1207.8,100.6 L1209.2,102.8 L1210.7,105.3 L1212.2,107.9 L1213.7,110.8 L1215.1,113.9 L1216.6,117.1 L1218.1,120.5 L1219.5,124.0 L1221.0,127.5 L1222.5,131.2 L1223.9,134.9 L1225.4,138.6 L1226.9,142.3 L1228.3,145.9 L1229.8,149.5 L1231.3,153.0 L1232.7,156.4 L1234.2,159.6 L1235.7,162.7 L1237.1,165.5 L1238.6,168.2 L1240.1,170.7 L1241.6,172.9 L1243.0,174.8 L1244.5,176.5 L1246.0,177.9 L1247.4,178.9 L1248.9,179.7 L1250.4,180.2 L1251.8,180.3 L1253.3,180.2 L1254.8,179.6 L1256.3,178.8 L1257.8,177.6 L1259.3,176.0 L1260.8,174.2 L1262.3,172.0 L1263.8,169.5 L1265.3,166.8 L1266.7,163.7 L1268.2,160.5 L1269.7,157.0 L1271.2,153.3 L1272.7,149.4 L1274.2,145.3 L1275.7,141.2 L1277.2,136.9 L1278.7,132.5 L1280.2,128.1 L1281.7,123.7 L1283.2,119.2 L1284.6,114.8 L1286.1,110.4 L1287.6,106.1 L1289.1,102.0 L1290.6,97.9 L1292.1,94.0 L1293.6,90.3 L1295.1,86.8 L1296.6,83.6 L1298.1,80.5 L1299.6,77.8 L1301.1,75.3 L1302.5,73.1 L1304.0,71.3 L1305.5,69.7 L1307.0,68.5 L1308.5,67.7 L1310.0,67.1 L1311.5,67.0 L1313.0,67.2 L1314.5,67.8 L1315.9,68.9 L1317.4,70.4 L1318.9,72.4 L1320.4,74.7 L1321.8,77.4 L1323.3,80.6 L1324.8,84.1 L1326.3,87.9 L1327.7,92.1 L1329.2,96.7 L1330.7,101.5 L1332.2,106.6 L1333.6,112.0 L1335.1,117.6 L1336.6,123.4 L1338.1,129.4 L1339.5,135.5 L1341.0,141.8 L1342.5,148.2 L1344.0,154.6 L1345.4,161.1 L1346.9,167.6 L1348.4,174.1 L1349.9,180.6 L1351.3,186.9 L1352.8,193.2 L1354.3,199.4 L1355.8,205.3 L1357.2,211.2 L1358.7,216.8 L1360.2,222.1 L1361.7,227.2 L1363.1,232.1 L1364.6,236.6 L1366.1,240.8 L1367.6,244.6 L1369.0,248.1 L1370.5,251.3 L1372.0,254.0 L1373.5,256.3 L1374.9,258.3 L1376.4,259.8 L1377.9,260.9 L1379.4,261.5 L1380.8,261.7 L1382.3,261.5 L1383.8,261.0 L1385.3,260.0 L1386.8,258.7 L1388.3,257.0 L1389.8,254.9 L1391.3,252.5 L1392.8,249.8 L1394.3,246.7 L1395.8,243.3 L1397.3,239.6 L1398.7,235.6 L1400.2,231.3 L1401.7,226.8 L1403.2,222.1 L1404.7,217.2 L1406.2,212.1 L1407.7,206.8 L1409.2,201.4 L1410.7,195.9 L1412.2,190.2 L1413.7,184.6 L1415.2,178.8 L1416.7,173.1 L1418.2,167.4 L1419.6,161.7 L1421.1,156.1 L1422.6,150.6 L1424.1,145.2 L1425.6,139.9 L1427.1,134.8 L1428.6,129.8 L1430.1,125.1 L1431.6,120.6 L1433.1,116.4 L1434.6,112.4 L1436.1,108.7 L1437.6,105.3 L1439.1,102.2 L1440.5,99.4 L1442.0,97.0 L1443.5,95.0 L1445.0,93.3 L1446.5,91.9 L1448.0,91.0 L1449.5,90.4 L1451.0,90.2 L1452.5,90.4 L1454.0,90.8 L1455.5,91.6 L1457.0,92.6 L1458.5,93.9 L1459.9,95.4 L1461.4,97.3 L1462.9,99.3 L1464.4,101.6 L1465.9,104.1 L1467.4,106.7 L1468.9,109.6 L1470.4,112.5 L1471.9,115.6 L1473.4,118.7 L1474.8,121.9 L1476.3,125.1 L1477.8,128.3 L1479.3,131.5 L1480.8,134.7 L1482.3,137.7 L1483.8,140.7 L1485.3,143.5 L1486.8,146.1 L1488.3,148.6 L1489.7,150.9 L1491.2,152.9 L1492.7,154.8 L1494.2,156.3 L1495.7,157.6 L1497.2,158.7 L1498.7,159.4 L1500.2,159.8 L1501.7,160.0 L1503.2,159.8 L1504.7,159.4 L1506.2,158.6 L1507.7,157.6 L1509.2,156.2 L1510.7,154.6 L1512.2,152.7 L1513.7,150.5 L1515.2,148.1 L1516.7,145.5 L1518.2,142.6 L1519.7,139.6 L1521.2,136.4 L1522.7,133.0 L1524.2,129.6 L1525.7,126.0 L1527.2,122.3 L1528.7,118.7 L1530.2,114.9 L1531.7,111.2 L1533.2,107.5 L1534.7,103.9 L1536.2,100.3 L1537.7,96.8 L1539.2,93.5 L1540.7,90.3 L1542.2,87.3 L1543.7,84.4 L1545.2,81.8 L1546.7,79.4 L1548.2,77.2 L1549.7,75.3 L1551.2,73.7 L1552.7,72.3 L1554.2,71.3 L1555.7,70.5 L1557.2,70.0 L1558.7,69.9 L1560.2,70.1 L1561.6,70.7 L1563.1,71.7 L1564.6,73.1 L1566.1,74.8 L1567.6,77.0 L1569.1,79.5 L1570.6,82.4 L1572.0,85.6 L1573.5,89.2 L1575.0,93.1 L1576.5,97.3 L1578.0,101.8 L1579.5,106.5 L1581.0,111.5 L1582.5,116.8 L1583.9,122.2 L1585.4,127.8 L1586.9,133.6 L1588.4,139.6 L1589.9,145.6 L1591.4,151.7 L1592.9,157.9 L1594.3,164.1 L1595.8,170.4 L1597.3,176.6 L1598.8,182.8 L1600.3,188.9 L1601.8,195.0 L1603.3,200.9 L1604.7,206.7 L1606.2,212.3 L1607.7,217.7 L1609.2,223.0 L1610.7,228.0 L1612.2,232.7 L1613.7,237.2 L1615.2,241.4 L1616.6,245.3 L1618.1,248.9 L1619.6,252.1 L1621.1,255.0 L1622.6,257.5 L1624.1,259.7 L1625.6,261.5 L1627.0,262.8 L1628.5,263.8 L1630.0,264.4 L1631.5,264.6 L1633.0,264.5 L1634.5,264.1 L1636.0,263.4 L1637.5,262.5 L1638.9,261.3 L1640.4,259.8 L1641.9,258.1 L1643.4,256.2 L1644.9,254.0 L1646.4,251.6 L1647.9,249.0 L1649.4,246.2 L1650.9,243.2 L1652.3,240.1 L1653.8,236.8 L1655.3,233.3 L1656.8,229.8 L1658.3,226.1 L1659.8,222.3 L1661.3,218.4 L1662.8,214.5 L1664.3,210.6 L1665.8,206.6 L1667.2,202.7 L1668.7,198.8 L1670.2,194.8 L1671.7,191.0 L1673.2,187.2 L1674.7,183.5 L1676.2,180.0 L1677.7,176.5 L1679.2,173.2 L1680.6,170.0 L1682.1,167.1 L1683.6,164.3 L1685.1,161.7 L1686.6,159.3 L1688.1,157.1 L1689.6,155.2 L1691.1,153.5 L1692.6,152.0 L1694.0,150.8 L1695.5,149.9 L1697.0,149.2 L1698.5,148.8 L1700.0,148.7 L1700.0,284 L0.5,284 Z" fill="url(#tg)"/>
<path d="M0.5,246.6 L0.5,246.7 L2.0,251.1 L3.5,255.2 L4.9,258.9 L6.4,262.2 L7.9,265.1 L9.3,267.6 L10.8,269.7 L12.3,271.3 L13.7,272.4 L15.2,273.1 L16.7,273.4 L18.1,273.1 L19.6,272.4 L21.1,271.1 L22.6,269.4 L24.1,267.2 L25.5,264.6 L27.0,261.5 L28.5,257.9 L30.0,253.9 L31.4,249.6 L32.9,244.8 L34.4,239.7 L35.9,234.3 L37.4,228.5 L38.8,222.5 L40.3,216.2 L41.8,209.7 L43.3,203.1 L44.7,196.2 L46.2,189.3 L47.7,182.3 L49.2,175.2 L50.7,168.1 L52.1,161.0 L53.6,154.0 L55.1,147.0 L56.6,140.2 L58.0,133.5 L59.5,127.0 L61.0,120.7 L62.5,114.7 L64.0,109.0 L65.4,103.5 L66.9,98.4 L68.4,93.7 L69.9,89.3 L71.3,85.3 L72.8,81.8 L74.3,78.7 L75.8,76.0 L77.3,73.8 L78.7,72.1 L80.2,70.9 L81.7,70.1 L83.2,69.9 L84.6,70.1 L86.1,70.7 L87.6,71.7 L89.1,73.1 L90.5,74.9 L92.0,77.1 L93.5,79.7 L94.9,82.6 L96.4,85.8 L97.9,89.4 L99.4,93.2 L100.8,97.3 L102.3,101.7 L103.8,106.3 L105.2,111.1 L106.7,116.1 L108.2,121.2 L109.7,126.4 L111.1,131.6 L112.6,137.0 L114.1,142.3 L115.5,147.6 L117.0,152.9 L118.5,158.1 L120.0,163.2 L121.4,168.2 L122.9,173.0 L124.4,177.6 L125.8,181.9 L127.3,186.1 L128.8,189.9 L130.3,193.5 L131.7,196.7 L133.2,199.6 L134.7,202.2 L136.1,204.4 L137.6,206.2 L139.1,207.6 L140.6,208.6 L142.0,209.2 L143.5,209.4 L145.0,209.2 L146.4,208.7 L147.9,207.7 L149.4,206.4 L150.9,204.8 L152.3,202.8 L153.8,200.4 L155.3,197.8 L156.8,194.8 L158.2,191.6 L159.7,188.1 L161.2,184.4 L162.7,180.5 L164.1,176.4 L165.6,172.1 L167.1,167.7 L168.6,163.3 L170.0,158.7 L171.5,154.2 L173.0,149.6 L174.4,145.1 L175.9,140.6 L177.4,136.2 L178.9,132.0 L180.3,127.9 L181.8,124.0 L183.3,120.3 L184.8,116.8 L186.2,113.5 L187.7,110.6 L189.2,107.9 L190.7,105.6 L192.1,103.6 L193.6,101.9 L195.1,100.6 L196.6,99.7 L198.0,99.1 L199.5,98.9 L201.0,99.2 L202.4,99.8 L203.9,100.9 L205.4,102.4 L206.9,104.3 L208.3,106.6 L209.8,109.4 L211.3,112.5 L212.8,115.9 L214.2,119.7 L215.7,123.8 L217.2,128.3 L218.6,133.0 L220.1,137.9 L221.6,143.1 L223.1,148.5 L224.5,154.1 L226.0,159.8 L227.5,165.6 L229.0,171.4 L230.4,177.4 L231.9,183.3 L233.4,189.2 L234.8,195.1 L236.3,200.9 L237.8,206.6 L239.3,212.2 L240.7,217.6 L242.2,222.7 L243.7,227.7 L245.2,232.4 L246.6,236.8 L248.1,241.0 L249.6,244.8 L251.0,248.2 L252.5,251.3 L254.0,254.0 L255.5,256.4 L256.9,258.3 L258.4,259.8 L259.9,260.9 L261.4,261.5 L262.8,261.7 L264.3,261.5 L265.8,260.8 L267.3,259.6 L268.7,257.9 L270.2,255.8 L271.7,253.2 L273.2,250.2 L274.6,246.7 L276.1,242.9 L277.6,238.7 L279.1,234.1 L280.6,229.1 L282.0,223.9 L283.5,218.3 L285.0,212.5 L286.5,206.5 L287.9,200.3 L289.4,193.9 L290.9,187.3 L292.4,180.7 L293.9,174.0 L295.3,167.3 L296.8,160.5 L298.3,153.8 L299.8,147.2 L301.2,140.6 L302.7,134.2 L304.2,128.0 L305.7,122.0 L307.1,116.2 L308.6,110.6 L310.1,105.4 L311.6,100.5 L313.1,95.9 L314.5,91.6 L316.0,87.8 L317.5,84.3 L319.0,81.3 L320.4,78.7 L321.9,76.6 L323.4,74.9 L324.9,73.7 L326.4,73.0 L327.8,72.8 L329.3,73.0 L330.8,73.7 L332.3,74.8 L333.8,76.3 L335.3,78.3 L336.8,80.6 L338.3,83.4 L339.8,86.5 L341.3,90.1 L342.8,93.9 L344.3,98.1 L345.8,102.5 L347.3,107.3 L348.8,112.3 L350.3,117.4 L351.8,122.8 L353.3,128.3 L354.8,134.0 L356.3,139.7 L357.8,145.5 L359.3,151.3 L360.8,157.0 L362.3,162.8 L363.8,168.4 L365.3,173.9 L366.8,179.3 L368.3,184.5 L369.8,189.4 L371.3,194.2 L372.8,198.7 L374.3,202.8 L375.8,206.7 L377.3,210.2 L378.8,213.3 L380.3,216.1 L381.8,218.5 L383.3,220.4 L384.8,222.0 L386.3,223.1 L387.8,223.7 L389.3,223.9 L390.8,223.7 L392.3,223.1 L393.8,222.1 L395.3,220.7 L396.8,218.8 L398.3,216.6 L399.8,214.0 L401.3,211.1 L402.8,207.9 L404.3,204.3 L405.8,200.4 L407.3,196.3 L408.8,192.0 L410.3,187.4 L411.8,182.7 L413.3,177.8 L414.8,172.8 L416.3,167.7 L417.8,162.6 L419.2,157.4 L420.7,152.3 L422.2,147.2 L423.7,142.2 L425.2,137.3 L426.7,132.6 L428.2,128.0 L429.7,123.7 L431.2,119.5 L432.7,115.7 L434.2,112.1 L435.7,108.9 L437.2,105.9 L438.7,103.4 L440.2,101.2 L441.7,99.3 L443.2,97.9 L444.7,96.9 L446.2,96.2 L447.7,96.0 L449.1,96.2 L450.6,96.9 L452.1,97.9 L453.5,99.3 L455.0,101.2 L456.5,103.4 L457.9,106.0 L459.4,108.9 L460.9,112.2 L462.4,115.8 L463.8,119.7 L465.3,123.9 L466.8,128.4 L468.2,133.1 L469.7,138.0 L471.2,143.1 L472.6,148.3 L474.1,153.7 L475.6,159.1 L477.0,164.6 L478.5,170.2 L480.0,175.7 L481.4,181.2 L482.9,186.7 L484.4,192.0 L485.8,197.2 L487.3,202.3 L488.8,207.2 L490.2,211.9 L491.7,216.4 L493.2,220.6 L494.6,224.5 L496.1,228.1 L497.6,231.4 L499.1,234.4 L500.5,237.0 L502.0,239.2 L503.5,241.0 L504.9,242.4 L506.4,243.5 L507.9,244.1 L509.3,244.3 L510.8,244.1 L512.3,243.4 L513.8,242.2 L515.2,240.7 L516.7,238.6 L518.2,236.2 L519.7,233.3 L521.1,230.1 L522.6,226.4 L524.1,222.4 L525.6,218.1 L527.1,213.4 L528.5,208.4 L530.0,203.2 L531.5,197.8 L533.0,192.1 L534.4,186.2 L535.9,180.2 L537.4,174.1 L538.9,167.9 L540.3,161.7 L541.8,155.4 L543.3,149.2 L544.8,143.0 L546.2,136.8 L547.7,130.8 L549.2,125.0 L550.7,119.3 L552.2,113.9 L553.6,108.6 L555.1,103.7 L556.6,99.0 L558.1,94.7 L559.5,90.7 L561.0,87.0 L562.5,83.8 L564.0,80.9 L565.4,78.4 L566.9,76.4 L568.4,74.8 L569.9,73.7 L571.4,73.0 L572.8,72.8 L574.3,73.0 L575.8,73.6 L577.2,74.7 L578.7,76.2 L580.2,78.2 L581.6,80.5 L583.1,83.2 L584.6,86.3 L586.0,89.8 L587.5,93.6 L588.9,97.7 L590.4,102.1 L591.9,106.8 L593.3,111.8 L594.8,117.0 L596.3,122.3 L597.7,127.9 L599.2,133.6 L600.7,139.4 L602.1,145.3 L603.6,151.2 L605.1,157.2 L606.5,163.1 L608.0,169.0 L609.5,174.8 L610.9,180.5 L612.4,186.0 L613.9,191.4 L615.3,196.6 L616.8,201.5 L618.2,206.2 L619.7,210.7 L621.2,214.8 L622.6,218.6 L624.1,222.1 L625.6,225.2 L627.0,227.9 L628.5,230.2 L630.0,232.1 L631.4,233.6 L632.9,234.7 L634.4,235.4 L635.8,235.6 L637.3,235.4 L638.8,234.7 L640.3,233.7 L641.7,232.3 L643.2,230.4 L644.7,228.2 L646.2,225.6 L647.6,222.6 L649.1,219.3 L650.6,215.7 L652.1,211.7 L653.5,207.5 L655.0,203.1 L656.5,198.4 L658.0,193.5 L659.4,188.4 L660.9,183.2 L662.4,177.9 L663.9,172.5 L665.3,167.1 L666.8,161.6 L668.3,156.2 L669.8,150.8 L671.2,145.5 L672.7,140.3 L674.2,135.2 L675.7,130.3 L677.1,125.6 L678.6,121.2 L680.1,117.0 L681.6,113.0 L683.0,109.4 L684.5,106.1 L686.0,103.1 L687.5,100.5 L689.0,98.3 L690.4,96.5 L691.9,95.0 L693.4,94.0 L694.9,93.3 L696.3,93.1 L697.8,93.3 L699.3,93.9 L700.8,94.9 L702.3,96.3 L703.8,98.1 L705.3,100.3 L706.8,102.8 L708.3,105.6 L709.8,108.8 L711.3,112.3 L712.8,116.1 L714.3,120.1 L715.8,124.4 L717.3,128.8 L718.8,133.5 L720.3,138.3 L721.8,143.3 L723.3,148.3 L724.8,153.4 L726.3,158.5 L727.7,163.7 L729.2,168.8 L730.7,173.8 L732.2,178.8 L733.7,183.6 L735.2,188.2 L736.7,192.7 L738.2,197.0 L739.7,201.0 L741.2,204.8 L742.7,208.3 L744.2,211.5 L745.7,214.3 L747.2,216.8 L748.7,219.0 L750.2,220.7 L751.7,222.1 L753.2,223.1 L754.7,223.7 L756.2,223.9 L757.6,223.7 L759.1,223.1 L760.6,222.0 L762.1,220.5 L763.6,218.6 L765.1,216.3 L766.5,213.6 L768.0,210.6 L769.5,207.1 L771.0,203.4 L772.5,199.3 L773.9,194.9 L775.4,190.3 L776.9,185.4 L778.4,180.3 L779.8,175.1 L781.3,169.6 L782.8,164.1 L784.3,158.4 L785.8,152.7 L787.2,146.9 L788.7,141.2 L790.2,135.4 L791.7,129.8 L793.2,124.2 L794.6,118.8 L796.1,113.5 L797.6,108.4 L799.1,103.5 L800.6,98.9 L802.0,94.5 L803.5,90.4 L805.0,86.7 L806.5,83.3 L808.0,80.2 L809.4,77.5 L810.9,75.2 L812.4,73.3 L813.9,71.8 L815.4,70.7 L816.9,70.1 L818.3,69.9 L819.8,70.1 L821.3,70.8 L822.8,71.9 L824.2,73.5 L825.7,75.5 L827.2,77.9 L828.6,80.7 L830.1,84.0 L831.6,87.6 L833.1,91.5 L834.5,95.8 L836.0,100.5 L837.5,105.4 L839.0,110.6 L840.4,116.0 L841.9,121.7 L843.4,127.6 L844.9,133.6 L846.3,139.7 L847.8,145.9 L849.3,152.2 L850.8,158.5 L852.2,164.9 L853.7,171.2 L855.2,177.4 L856.6,183.5 L858.1,189.5 L859.6,195.4 L861.1,201.0 L862.5,206.5 L864.0,211.7 L865.5,216.6 L867.0,221.2 L868.4,225.5 L869.9,229.5 L871.4,233.1 L872.9,236.4 L874.3,239.2 L875.8,241.6 L877.3,243.6 L878.7,245.2 L880.2,246.3 L881.7,247.0 L883.2,247.2 L884.7,247.0 L886.2,246.3 L887.7,245.3 L889.2,243.8 L890.7,241.9 L892.2,239.6 L893.7,236.9 L895.2,233.8 L896.7,230.4 L898.2,226.6 L899.7,222.6 L901.2,218.2 L902.7,213.6 L904.2,208.7 L905.7,203.6 L907.2,198.3 L908.7,192.9 L910.2,187.3 L911.7,181.6 L913.2,175.9 L914.7,170.2 L916.2,164.4 L917.7,158.7 L919.2,153.0 L920.7,147.5 L922.2,142.0 L923.7,136.7 L925.2,131.6 L926.7,126.8 L928.2,122.1 L929.7,117.8 L931.2,113.7 L932.7,109.9 L934.2,106.5 L935.7,103.5 L937.2,100.8 L938.7,98.5 L940.2,96.6 L941.7,95.1 L943.2,94.0 L944.7,93.3 L946.2,93.1 L947.6,93.3 L949.1,93.8 L950.6,94.7 L952.0,96.0 L953.5,97.6 L955.0,99.5 L956.5,101.7 L957.9,104.2 L959.4,107.0 L960.9,110.1 L962.3,113.4 L963.8,117.0 L965.3,120.7 L966.8,124.7 L968.2,128.8 L969.7,133.0 L971.2,137.3 L972.6,141.7 L974.1,146.1 L975.6,150.6 L977.0,155.0 L978.5,159.4 L980.0,163.7 L981.5,167.9 L982.9,172.0 L984.4,176.0 L985.9,179.7 L987.3,183.3 L988.8,186.6 L990.3,189.7 L991.7,192.5 L993.2,195.0 L994.7,197.3 L996.2,199.2 L997.6,200.8 L999.1,202.0 L1000.6,202.9 L1002.0,203.4 L1003.5,203.6 L1005.0,203.4 L1006.5,202.8 L1008.0,201.8 L1009.4,200.4 L1010.9,198.6 L1012.4,196.5 L1013.9,194.0 L1015.4,191.2 L1016.9,188.0 L1018.3,184.5 L1019.8,180.7 L1021.3,176.7 L1022.8,172.4 L1024.3,167.9 L1025.8,163.2 L1027.2,158.4 L1028.7,153.4 L1030.2,148.3 L1031.7,143.1 L1033.2,137.9 L1034.7,132.7 L1036.1,127.4 L1037.6,122.3 L1039.1,117.2 L1040.6,112.2 L1042.1,107.3 L1043.6,102.6 L1045.0,98.1 L1046.5,93.9 L1048.0,89.8 L1049.5,86.1 L1051.0,82.6 L1052.5,79.4 L1053.9,76.6 L1055.4,74.1 L1056.9,71.9 L1058.4,70.2 L1059.9,68.8 L1061.4,67.8 L1062.8,67.2 L1064.3,67.0 L1065.8,67.2 L1067.3,67.9 L1068.8,69.0 L1070.3,70.6 L1071.8,72.7 L1073.3,75.1 L1074.8,78.0 L1076.3,81.3 L1077.8,85.0 L1079.3,89.1 L1080.7,93.5 L1082.2,98.2 L1083.7,103.3 L1085.2,108.6 L1086.7,114.2 L1088.2,120.0 L1089.7,126.1 L1091.2,132.3 L1092.7,138.6 L1094.2,145.0 L1095.7,151.6 L1097.2,158.1 L1098.7,164.7 L1100.2,171.3 L1101.6,177.9 L1103.1,184.3 L1104.6,190.6 L1106.1,196.8 L1107.6,202.9 L1109.1,208.7 L1110.6,214.3 L1112.1,219.6 L1113.6,224.7 L1115.1,229.4 L1116.6,233.8 L1118.1,237.9 L1119.6,241.6 L1121.1,244.9 L1122.5,247.8 L1124.0,250.2 L1125.5,252.3 L1127.0,253.9 L1128.5,255.0 L1130.0,255.7 L1131.5,255.9 L1133.0,255.7 L1134.5,255.1 L1136.0,254.1 L1137.5,252.6 L1139.0,250.8 L1140.5,248.6 L1142.0,246.0 L1143.5,243.0 L1145.0,239.7 L1146.5,236.0 L1148.0,232.1 L1149.5,227.8 L1151.0,223.3 L1152.5,218.5 L1154.0,213.5 L1155.5,208.3 L1157.0,203.0 L1158.5,197.5 L1160.0,191.8 L1161.5,186.1 L1163.0,180.3 L1164.5,174.5 L1166.0,168.7 L1167.5,162.9 L1169.0,157.2 L1170.5,151.6 L1172.0,146.1 L1173.5,140.7 L1175.0,135.5 L1176.5,130.5 L1178.0,125.7 L1179.5,121.2 L1181.0,117.0 L1182.5,113.0 L1184.0,109.4 L1185.5,106.1 L1187.0,103.1 L1188.5,100.5 L1190.0,98.3 L1191.5,96.4 L1193.0,95.0 L1194.5,94.0 L1196.0,93.3 L1197.5,93.1 L1199.0,93.3 L1200.4,93.8 L1201.9,94.5 L1203.4,95.6 L1204.8,97.0 L1206.3,98.7 L1207.8,100.6 L1209.2,102.8 L1210.7,105.3 L1212.2,107.9 L1213.7,110.8 L1215.1,113.9 L1216.6,117.1 L1218.1,120.5 L1219.5,124.0 L1221.0,127.5 L1222.5,131.2 L1223.9,134.9 L1225.4,138.6 L1226.9,142.3 L1228.3,145.9 L1229.8,149.5 L1231.3,153.0 L1232.7,156.4 L1234.2,159.6 L1235.7,162.7 L1237.1,165.5 L1238.6,168.2 L1240.1,170.7 L1241.6,172.9 L1243.0,174.8 L1244.5,176.5 L1246.0,177.9 L1247.4,178.9 L1248.9,179.7 L1250.4,180.2 L1251.8,180.3 L1253.3,180.2 L1254.8,179.6 L1256.3,178.8 L1257.8,177.6 L1259.3,176.0 L1260.8,174.2 L1262.3,172.0 L1263.8,169.5 L1265.3,166.8 L1266.7,163.7 L1268.2,160.5 L1269.7,157.0 L1271.2,153.3 L1272.7,149.4 L1274.2,145.3 L1275.7,141.2 L1277.2,136.9 L1278.7,132.5 L1280.2,128.1 L1281.7,123.7 L1283.2,119.2 L1284.6,114.8 L1286.1,110.4 L1287.6,106.1 L1289.1,102.0 L1290.6,97.9 L1292.1,94.0 L1293.6,90.3 L1295.1,86.8 L1296.6,83.6 L1298.1,80.5 L1299.6,77.8 L1301.1,75.3 L1302.5,73.1 L1304.0,71.3 L1305.5,69.7 L1307.0,68.5 L1308.5,67.7 L1310.0,67.1 L1311.5,67.0 L1313.0,67.2 L1314.5,67.8 L1315.9,68.9 L1317.4,70.4 L1318.9,72.4 L1320.4,74.7 L1321.8,77.4 L1323.3,80.6 L1324.8,84.1 L1326.3,87.9 L1327.7,92.1 L1329.2,96.7 L1330.7,101.5 L1332.2,106.6 L1333.6,112.0 L1335.1,117.6 L1336.6,123.4 L1338.1,129.4 L1339.5,135.5 L1341.0,141.8 L1342.5,148.2 L1344.0,154.6 L1345.4,161.1 L1346.9,167.6 L1348.4,174.1 L1349.9,180.6 L1351.3,186.9 L1352.8,193.2 L1354.3,199.4 L1355.8,205.3 L1357.2,211.2 L1358.7,216.8 L1360.2,222.1 L1361.7,227.2 L1363.1,232.1 L1364.6,236.6 L1366.1,240.8 L1367.6,244.6 L1369.0,248.1 L1370.5,251.3 L1372.0,254.0 L1373.5,256.3 L1374.9,258.3 L1376.4,259.8 L1377.9,260.9 L1379.4,261.5 L1380.8,261.7 L1382.3,261.5 L1383.8,261.0 L1385.3,260.0 L1386.8,258.7 L1388.3,257.0 L1389.8,254.9 L1391.3,252.5 L1392.8,249.8 L1394.3,246.7 L1395.8,243.3 L1397.3,239.6 L1398.7,235.6 L1400.2,231.3 L1401.7,226.8 L1403.2,222.1 L1404.7,217.2 L1406.2,212.1 L1407.7,206.8 L1409.2,201.4 L1410.7,195.9 L1412.2,190.2 L1413.7,184.6 L1415.2,178.8 L1416.7,173.1 L1418.2,167.4 L1419.6,161.7 L1421.1,156.1 L1422.6,150.6 L1424.1,145.2 L1425.6,139.9 L1427.1,134.8 L1428.6,129.8 L1430.1,125.1 L1431.6,120.6 L1433.1,116.4 L1434.6,112.4 L1436.1,108.7 L1437.6,105.3 L1439.1,102.2 L1440.5,99.4 L1442.0,97.0 L1443.5,95.0 L1445.0,93.3 L1446.5,91.9 L1448.0,91.0 L1449.5,90.4 L1451.0,90.2 L1452.5,90.4 L1454.0,90.8 L1455.5,91.6 L1457.0,92.6 L1458.5,93.9 L1459.9,95.4 L1461.4,97.3 L1462.9,99.3 L1464.4,101.6 L1465.9,104.1 L1467.4,106.7 L1468.9,109.6 L1470.4,112.5 L1471.9,115.6 L1473.4,118.7 L1474.8,121.9 L1476.3,125.1 L1477.8,128.3 L1479.3,131.5 L1480.8,134.7 L1482.3,137.7 L1483.8,140.7 L1485.3,143.5 L1486.8,146.1 L1488.3,148.6 L1489.7,150.9 L1491.2,152.9 L1492.7,154.8 L1494.2,156.3 L1495.7,157.6 L1497.2,158.7 L1498.7,159.4 L1500.2,159.8 L1501.7,160.0 L1503.2,159.8 L1504.7,159.4 L1506.2,158.6 L1507.7,157.6 L1509.2,156.2 L1510.7,154.6 L1512.2,152.7 L1513.7,150.5 L1515.2,148.1 L1516.7,145.5 L1518.2,142.6 L1519.7,139.6 L1521.2,136.4 L1522.7,133.0 L1524.2,129.6 L1525.7,126.0 L1527.2,122.3 L1528.7,118.7 L1530.2,114.9 L1531.7,111.2 L1533.2,107.5 L1534.7,103.9 L1536.2,100.3 L1537.7,96.8 L1539.2,93.5 L1540.7,90.3 L1542.2,87.3 L1543.7,84.4 L1545.2,81.8 L1546.7,79.4 L1548.2,77.2 L1549.7,75.3 L1551.2,73.7 L1552.7,72.3 L1554.2,71.3 L1555.7,70.5 L1557.2,70.0 L1558.7,69.9 L1560.2,70.1 L1561.6,70.7 L1563.1,71.7 L1564.6,73.1 L1566.1,74.8 L1567.6,77.0 L1569.1,79.5 L1570.6,82.4 L1572.0,85.6 L1573.5,89.2 L1575.0,93.1 L1576.5,97.3 L1578.0,101.8 L1579.5,106.5 L1581.0,111.5 L1582.5,116.8 L1583.9,122.2 L1585.4,127.8 L1586.9,133.6 L1588.4,139.6 L1589.9,145.6 L1591.4,151.7 L1592.9,157.9 L1594.3,164.1 L1595.8,170.4 L1597.3,176.6 L1598.8,182.8 L1600.3,188.9 L1601.8,195.0 L1603.3,200.9 L1604.7,206.7 L1606.2,212.3 L1607.7,217.7 L1609.2,223.0 L1610.7,228.0 L1612.2,232.7 L1613.7,237.2 L1615.2,241.4 L1616.6,245.3 L1618.1,248.9 L1619.6,252.1 L1621.1,255.0 L1622.6,257.5 L1624.1,259.7 L1625.6,261.5 L1627.0,262.8 L1628.5,263.8 L1630.0,264.4 L1631.5,264.6 L1633.0,264.5 L1634.5,264.1 L1636.0,263.4 L1637.5,262.5 L1638.9,261.3 L1640.4,259.8 L1641.9,258.1 L1643.4,256.2 L1644.9,254.0 L1646.4,251.6 L1647.9,249.0 L1649.4,246.2 L1650.9,243.2 L1652.3,240.1 L1653.8,236.8 L1655.3,233.3 L1656.8,229.8 L1658.3,226.1 L1659.8,222.3 L1661.3,218.4 L1662.8,214.5 L1664.3,210.6 L1665.8,206.6 L1667.2,202.7 L1668.7,198.8 L1670.2,194.8 L1671.7,191.0 L1673.2,187.2 L1674.7,183.5 L1676.2,180.0 L1677.7,176.5 L1679.2,173.2 L1680.6,170.0 L1682.1,167.1 L1683.6,164.3 L1685.1,161.7 L1686.6,159.3 L1688.1,157.1 L1689.6,155.2 L1691.1,153.5 L1692.6,152.0 L1694.0,150.8 L1695.5,149.9 L1697.0,149.2 L1698.5,148.8 L1700.0,148.7 L1700.0,284.5 L0.7,284.5 L0.7,246.6" fill="none" stroke="#1f80ca" stroke-width="3" stroke-linejoin="round"/>
<rect x="0.0" y="0" width="61.5" height="287" fill="#adadad" fill-opacity="0.245"/>
<rect x="209.3" y="0" width="92.3" height="287" fill="#adadad" fill-opacity="0.245"/>
<rect x="449.3" y="0" width="92.3" height="287" fill="#adadad" fill-opacity="0.245"/>
<rect x="689.5" y="0" width="92.3" height="287" fill="#adadad" fill-opacity="0.245"/>
<rect x="929.5" y="0" width="92.5" height="287" fill="#adadad" fill-opacity="0.245"/>
<rect x="1169.5" y="0" width="92.5" height="287" fill="#adadad" fill-opacity="0.245"/>
<rect x="1409.5" y="0" width="92.7" height="287" fill="#adadad" fill-opacity="0.245"/>
<rect x="1649.5" y="0" width="32.5" height="287" fill="#adadad" fill-opacity="0.245"/>
<circle cx="16.7" cy="273.4" r="3.7" fill="#0d8593" stroke="#fff" stroke-width="1"/>
<circle cx="83.2" cy="69.9" r="4" fill="#3d9ad8" stroke="#fff" stroke-width="1"/>
<circle cx="143.5" cy="209.4" r="3.7" fill="#0d8593" stroke="#fff" stroke-width="1"/>
<circle cx="199.5" cy="98.9" r="4" fill="#3d9ad8" stroke="#fff" stroke-width="1"/>
<circle cx="262.8" cy="261.7" r="3.7" fill="#0d8593" stroke="#fff" stroke-width="1"/>
<circle cx="327.8" cy="72.8" r="4" fill="#3d9ad8" stroke="#fff" stroke-width="1"/>
<circle cx="389.3" cy="223.9" r="3.7" fill="#0d8593" stroke="#fff" stroke-width="1"/>
<circle cx="447.7" cy="96.0" r="4" fill="#3d9ad8" stroke="#fff" stroke-width="1"/>
<circle cx="509.3" cy="244.3" r="3.7" fill="#0d8593" stroke="#fff" stroke-width="1"/>
<circle cx="572.8" cy="72.8" r="4" fill="#3d9ad8" stroke="#fff" stroke-width="1"/>
<circle cx="635.8" cy="235.6" r="3.7" fill="#0d8593" stroke="#fff" stroke-width="1"/>
<circle cx="696.3" cy="93.1" r="4" fill="#3d9ad8" stroke="#fff" stroke-width="1"/>
<circle cx="756.2" cy="223.9" r="3.7" fill="#0d8593" stroke="#fff" stroke-width="1"/>
<circle cx="818.3" cy="69.9" r="4" fill="#3d9ad8" stroke="#fff" stroke-width="1"/>
<circle cx="883.2" cy="247.2" r="3.7" fill="#0d8593" stroke="#fff" stroke-width="1"/>
<circle cx="946.2" cy="93.1" r="4" fill="#3d9ad8" stroke="#fff" stroke-width="1"/>
<circle cx="1003.5" cy="203.6" r="3.7" fill="#0d8593" stroke="#fff" stroke-width="1"/>
<circle cx="1064.3" cy="67.0" r="4" fill="#3d9ad8" stroke="#fff" stroke-width="1"/>
<circle cx="1131.5" cy="255.9" r="3.7" fill="#0d8593" stroke="#fff" stroke-width="1"/>
<circle cx="1197.5" cy="93.1" r="4" fill="#3d9ad8" stroke="#fff" stroke-width="1"/>
<circle cx="1251.8" cy="180.3" r="3.7" fill="#0d8593" stroke="#fff" stroke-width="1"/>
<circle cx="1311.5" cy="67.0" r="4" fill="#3d9ad8" stroke="#fff" stroke-width="1"/>
<circle cx="1380.8" cy="261.7" r="3.7" fill="#0d8593" stroke="#fff" stroke-width="1"/>
<circle cx="1451.0" cy="90.2" r="4" fill="#3d9ad8" stroke="#fff" stroke-width="1"/>
<circle cx="1501.7" cy="160.0" r="3.7" fill="#0d8593" stroke="#fff" stroke-width="1"/>
<circle cx="1558.7" cy="69.9" r="4" fill="#3d9ad8" stroke="#fff" stroke-width="1"/>
<circle cx="1631.5" cy="264.6" r="3.7" fill="#0d8593" stroke="#fff" stroke-width="1"/>
</svg>
<div class="abs" style="left:0;top:406px;width:69px;height:1.9px;background:#2f5475"></div>
<div class="abs" style="left:70px;top:407px;width:1682px;height:2px;background:#2d506e"></div>
<div class="abs" style="left:70px;top:409px;width:1682px;height:58px;background:#f6fafe"></div>
<div class="abs" style="left:70px;top:467px;width:1682px;height:59px;background:#fff"></div>
<div class="abs" style="left:0;top:467px;width:69px;height:1px;background:#e9e9e9"></div>
<div class="c" style="left:35px;top:421.5px;font-size:14px;font-weight:bold;color:#4a80b5;letter-spacing:0.1px">HIGH</div>
<div class="c" style="left:35px;top:438.8px;font-size:13.7px;color:#333">(AEDT)</div>
<div class="c" style="left:35px;top:480.7px;font-size:14px;font-weight:bold;color:#0e8696;letter-spacing:0.1px">LOW</div>
<div class="c" style="left:35px;top:497.5px;font-size:13.7px;color:#333">(AEDT)</div>
<div class="c" style="left:160.0px;top:417px;font-size:13px;font-weight:bold;color:#4a80b5">8:07AM</div>
<div class="c" style="left:160.0px;top:432.3px;font-size:12.8px;color:#333">0.75m</div>
<div class="c" style="left:160.0px;top:445.9px;font-size:12.8px;color:#333">(2.46ft)</div>
<div class="c" style="left:280.0px;top:417px;font-size:13px;font-weight:bold;color:#4a80b5">7:45PM</div>
<div class="c" style="left:280.0px;top:432.3px;font-size:12.8px;color:#333">0.65m</div>
<div class="c" style="left:280.0px;top:445.9px;font-size:12.8px;color:#333">(2.13ft)</div>
<div class="c" style="left:400.0px;top:417px;font-size:13px;font-weight:bold;color:#4a80b5">8:35AM</div>
<div class="c" style="left:400.0px;top:432.3px;font-size:12.8px;color:#333">0.74m</div>
<div class="c" style="left:400.0px;top:445.9px;font-size:12.8px;color:#333">(2.43ft)</div>
<div class="c" style="left:520.0px;top:417px;font-size:13px;font-weight:bold;color:#4a80b5">8:34PM</div>
<div class="c" style="left:520.0px;top:432.3px;font-size:12.8px;color:#333">0.66m</div>
<div class="c" style="left:520.0px;top:445.9px;font-size:12.8px;color:#333">(2.17ft)</div>
<div class="c" style="left:640.0px;top:417px;font-size:13px;font-weight:bold;color:#4a80b5">9:05AM</div>
<div class="c" style="left:640.0px;top:432.3px;font-size:12.8px;color:#333">0.74m</div>
<div class="c" style="left:640.0px;top:445.9px;font-size:12.8px;color:#333">(2.43ft)</div>
<div class="c" style="left:760.0px;top:417px;font-size:13px;font-weight:bold;color:#4a80b5">9:26PM</div>
<div class="c" style="left:760.0px;top:432.3px;font-size:12.8px;color:#333">0.67m</div>
<div class="c" style="left:760.0px;top:445.9px;font-size:12.8px;color:#333">(2.2ft)</div>
<div class="c" style="left:880.0px;top:417px;font-size:13px;font-weight:bold;color:#4a80b5">9:38AM</div>
<div class="c" style="left:880.0px;top:432.3px;font-size:12.8px;color:#333">0.75m</div>
<div class="c" style="left:880.0px;top:445.9px;font-size:12.8px;color:#333">(2.46ft)</div>
<div class="c" style="left:1000.0px;top:417px;font-size:13px;font-weight:bold;color:#4a80b5">10:25PM</div>
<div class="c" style="left:1000.0px;top:432.3px;font-size:12.8px;color:#333">0.67m</div>
<div class="c" style="left:1000.0px;top:445.9px;font-size:12.8px;color:#333">(2.2ft)</div>
<div class="c" style="left:1120.0px;top:417px;font-size:13px;font-weight:bold;color:#4a80b5">10:14AM</div>
<div class="c" style="left:1120.0px;top:432.3px;font-size:12.8px;color:#333">0.76m</div>
<div class="c" style="left:1120.0px;top:445.9px;font-size:12.8px;color:#333">(2.49ft)</div>
<div class="c" style="left:1240.0px;top:417px;font-size:13px;font-weight:bold;color:#4a80b5">11:33PM</div>
<div class="c" style="left:1240.0px;top:432.3px;font-size:12.8px;color:#333">0.67m</div>
<div class="c" style="left:1240.0px;top:445.9px;font-size:12.8px;color:#333">(2.2ft)</div>
<div class="c" style="left:1360.0px;top:417px;font-size:13px;font-weight:bold;color:#4a80b5">10:57AM</div>
<div class="c" style="left:1360.0px;top:432.3px;font-size:12.8px;color:#333">0.76m</div>
<div class="c" style="left:1360.0px;top:445.9px;font-size:12.8px;color:#333">(2.49ft)</div>
<div class="c" style="left:1542.0px;top:417px;font-size:13px;font-weight:bold;color:#4a80b5">00:54AM</div>
<div class="c" style="left:1542.0px;top:432.3px;font-size:12.8px;color:#333">0.68m</div>
<div class="c" style="left:1542.0px;top:445.9px;font-size:12.8px;color:#333">(2.23ft)</div>
<div class="c" style="left:1604.0px;top:417px;font-size:13px;font-weight:bold;color:#4a80b5">11:40AM</div>
<div class="c" style="left:1604.0px;top:432.3px;font-size:12.8px;color:#333">0.75m</div>
<div class="c" style="left:1604.0px;top:445.9px;font-size:12.8px;color:#333">(2.46ft)</div>
<div class="c" style="left:100.0px;top:476px;font-size:13px;font-weight:bold;color:#0e8696">1:28AM</div>
<div class="c" style="left:100.0px;top:491.3px;font-size:12.8px;color:#333">0.05m</div>
<div class="c" style="left:100.0px;top:504.9px;font-size:12.8px;color:#333">(0.16ft)</div>
<div class="c" style="left:220.0px;top:476px;font-size:13px;font-weight:bold;color:#0e8696">2:09PM</div>
<div class="c" style="left:220.0px;top:491.3px;font-size:12.8px;color:#333">0.27m</div>
<div class="c" style="left:220.0px;top:504.9px;font-size:12.8px;color:#333">(0.89ft)</div>
<div class="c" style="left:340.0px;top:476px;font-size:13px;font-weight:bold;color:#0e8696">2:05AM</div>
<div class="c" style="left:340.0px;top:491.3px;font-size:12.8px;color:#333">0.09m</div>
<div class="c" style="left:340.0px;top:504.9px;font-size:12.8px;color:#333">(0.3ft)</div>
<div class="c" style="left:460.0px;top:476px;font-size:13px;font-weight:bold;color:#0e8696">2:44PM</div>
<div class="c" style="left:460.0px;top:491.3px;font-size:12.8px;color:#333">0.22m</div>
<div class="c" style="left:460.0px;top:504.9px;font-size:12.8px;color:#333">(0.72ft)</div>
<div class="c" style="left:580.0px;top:476px;font-size:13px;font-weight:bold;color:#0e8696">2:44AM</div>
<div class="c" style="left:580.0px;top:491.3px;font-size:12.8px;color:#333">0.15m</div>
<div class="c" style="left:580.0px;top:504.9px;font-size:12.8px;color:#333">(0.49ft)</div>
<div class="c" style="left:700.0px;top:476px;font-size:13px;font-weight:bold;color:#0e8696">3:23PM</div>
<div class="c" style="left:700.0px;top:491.3px;font-size:12.8px;color:#333">0.18m</div>
<div class="c" style="left:700.0px;top:504.9px;font-size:12.8px;color:#333">(0.59ft)</div>
<div class="c" style="left:820.0px;top:476px;font-size:13px;font-weight:bold;color:#0e8696">3:25AM</div>
<div class="c" style="left:820.0px;top:491.3px;font-size:12.8px;color:#333">0.22m</div>
<div class="c" style="left:820.0px;top:504.9px;font-size:12.8px;color:#333">(0.72ft)</div>
<div class="c" style="left:940.0px;top:476px;font-size:13px;font-weight:bold;color:#0e8696">4:07PM</div>
<div class="c" style="left:940.0px;top:491.3px;font-size:12.8px;color:#333">0.14m</div>
<div class="c" style="left:940.0px;top:504.9px;font-size:12.8px;color:#333">(0.46ft)</div>
<div class="c" style="left:1060.0px;top:476px;font-size:13px;font-weight:bold;color:#0e8696">4:09AM</div>
<div class="c" style="left:1060.0px;top:491.3px;font-size:12.8px;color:#333">0.29m</div>
<div class="c" style="left:1060.0px;top:504.9px;font-size:12.8px;color:#333">(0.95ft)</div>
<div class="c" style="left:1180.0px;top:476px;font-size:13px;font-weight:bold;color:#0e8696">4:57PM</div>
<div class="c" style="left:1180.0px;top:491.3px;font-size:12.8px;color:#333">0.11m</div>
<div class="c" style="left:1180.0px;top:504.9px;font-size:12.8px;color:#333">(0.36ft)</div>
<div class="c" style="left:1300.0px;top:476px;font-size:13px;font-weight:bold;color:#0e8696">4:59AM</div>
<div class="c" style="left:1300.0px;top:491.3px;font-size:12.8px;color:#333">0.37m</div>
<div class="c" style="left:1300.0px;top:504.9px;font-size:12.8px;color:#333">(1.21ft)</div>
<div class="c" style="left:1420.0px;top:476px;font-size:13px;font-weight:bold;color:#0e8696">5:53PM</div>
<div class="c" style="left:1420.0px;top:491.3px;font-size:12.8px;color:#333">0.09m</div>
<div class="c" style="left:1420.0px;top:504.9px;font-size:12.8px;color:#333">(0.3ft)</div>
<div class="c" style="left:1542.0px;top:476px;font-size:13px;font-weight:bold;color:#0e8696">5:58AM</div>
<div class="c" style="left:1542.0px;top:491.3px;font-size:12.8px;color:#333">0.44m</div>
<div class="c" style="left:1542.0px;top:504.9px;font-size:12.8px;color:#333">(1.44ft)</div>
<div class="c" style="left:1724.0px;top:476px;font-size:13px;font-weight:bold;color:#0e8696">6:57PM</div>
<div class="c" style="left:1724.0px;top:491.3px;font-size:12.8px;color:#333">0.08m</div>
<div class="c" style="left:1724.0px;top:504.9px;font-size:12.8px;color:#333">(0.26ft)</div>
<div class="abs" style="left:0;top:525px;width:69px;height:1.7px;background:#34587a"></div>
<div class="abs" style="left:70px;top:526px;width:1682px;height:1.85px;background:#34587a"></div>
<div class="abs" style="left:0;top:526.7px;width:69px;height:45.3px;background:#fffff0"></div>
<div class="abs" style="left:70px;top:528px;width:1682px;height:45px;background:#fffff0"></div>
<div class="abs" style="left:70px;top:573px;width:1682px;height:1px;background:#ececec"></div><div class="abs" style="left:0;top:572px;width:69px;height:1px;background:#ededed"></div>
<div class="abs" style="left:70px;top:574px;width:1682px;height:78px;background:#fff"></div>
<div class="c" style="left:35px;top:543.4px;font-size:14.3px;color:#333">Sun</div>
<svg class="abs" style="left:29px;top:533px" width="12" height="34" viewBox="0 0 12 34"><path d="M5.9,2.6 L9.8,8.1 L2,8.1 Z M5.9,30.7 L9.8,25.2 L2,25.2 Z" fill="#111"/></svg>
<div class="abs" style="left:251px;top:528px;width:59px;height:45px;background:#eeeeee"></div>
<div class="abs" style="left:491px;top:528px;width:59px;height:45px;background:#eeeeee"></div>
<div class="abs" style="left:731px;top:528px;width:59px;height:45px;background:#eeeeee"></div>
<div class="abs" style="left:971px;top:528px;width:59px;height:45px;background:#eeeeee"></div>
<div class="abs" style="left:1211px;top:528px;width:59px;height:45px;background:#eeeeee"></div>
<div class="abs" style="left:1451px;top:528px;width:59px;height:45px;background:#eeeeee"></div>
<div class="abs" style="left:1695px;top:528px;width:59px;height:45px;background:#eeeeee"></div>
<svg class="abs" style="left:88px;top:532px" width="26" height="26" viewBox="-12.00 -12.00 26 26"><g fill="none"><path d="M-5.45,-0.1 A5.45,5.45 0 0 1 5.45,-0.1" stroke="#0a0a0a" stroke-width="1.3" stroke-linecap="round"/><path d="M-6.9,-6.9 L-5.5,-5.5 M6.9,-6.9 L5.5,-5.5" stroke="#111" stroke-width="1.3" stroke-linecap="round"/><path d="M0,-9.8 V-7.7" stroke="#555" stroke-width="1.8"/><path d="M-9.9,-0.1 H-7.2 M7.2,-0.1 H9.9" stroke="#6a6a6a" stroke-width="1.65"/><path d="M-9.9,3 H-3.4 M3.4,3 H9.9" stroke="#6a6a6a" stroke-width="1.65"/><path d="M-3.8,3 C-2,3 -1.4,0.4 0,0.4 C1.4,0.4 2,3 3.8,3" stroke="#111" stroke-width="1.35" stroke-linecap="round"/></g></svg>
<div class="c" style="left:100.0px;top:555px;font-size:12.4px;color:#333;letter-spacing:0.1px">5:57AM</div>
<svg class="abs" style="left:328px;top:532px" width="26" height="26" viewBox="-12.00 -12.00 26 26"><g fill="none"><path d="M-5.45,-0.1 A5.45,5.45 0 0 1 5.45,-0.1" stroke="#0a0a0a" stroke-width="1.3" stroke-linecap="round"/><path d="M-6.9,-6.9 L-5.5,-5.5 M6.9,-6.9 L5.5,-5.5" stroke="#111" stroke-width="1.3" stroke-linecap="round"/><path d="M0,-9.8 V-7.7" stroke="#555" stroke-width="1.8"/><path d="M-9.9,-0.1 H-7.2 M7.2,-0.1 H9.9" stroke="#6a6a6a" stroke-width="1.65"/><path d="M-9.9,3 H-3.4 M3.4,3 H9.9" stroke="#6a6a6a" stroke-width="1.65"/><path d="M-3.8,3 C-2,3 -1.4,0.4 0,0.4 C1.4,0.4 2,3 3.8,3" stroke="#111" stroke-width="1.35" stroke-linecap="round"/></g></svg>
<div class="c" style="left:340.0px;top:555px;font-size:12.4px;color:#333;letter-spacing:0.1px">5:58AM</div>
<svg class="abs" style="left:568px;top:532px" width="26" height="26" viewBox="-12.00 -12.00 26 26"><g fill="none"><path d="M-5.45,-0.1 A5.45,5.45 0 0 1 5.45,-0.1" stroke="#0a0a0a" stroke-width="1.3" stroke-linecap="round"/><path d="M-6.9,-6.9 L-5.5,-5.5 M6.9,-6.9 L5.5,-5.5" stroke="#111" stroke-width="1.3" stroke-linecap="round"/><path d="M0,-9.8 V-7.7" stroke="#555" stroke-width="1.8"/><path d="M-9.9,-0.1 H-7.2 M7.2,-0.1 H9.9" stroke="#6a6a6a" stroke-width="1.65"/><path d="M-9.9,3 H-3.4 M3.4,3 H9.9" stroke="#6a6a6a" stroke-width="1.65"/><path d="M-3.8,3 C-2,3 -1.4,0.4 0,0.4 C1.4,0.4 2,3 3.8,3" stroke="#111" stroke-width="1.35" stroke-linecap="round"/></g></svg>
<div class="c" style="left:580.0px;top:555px;font-size:12.4px;color:#333;letter-spacing:0.1px">5:58AM</div>
<svg class="abs" style="left:808px;top:532px" width="26" height="26" viewBox="-12.00 -12.00 26 26"><g fill="none"><path d="M-5.45,-0.1 A5.45,5.45 0 0 1 5.45,-0.1" stroke="#0a0a0a" stroke-width="1.3" stroke-linecap="round"/><path d="M-6.9,-6.9 L-5.5,-5.5 M6.9,-6.9 L5.5,-5.5" stroke="#111" stroke-width="1.3" stroke-linecap="round"/><path d="M0,-9.8 V-7.7" stroke="#555" stroke-width="1.8"/><path d="M-9.9,-0.1 H-7.2 M7.2,-0.1 H9.9" stroke="#6a6a6a" stroke-width="1.65"/><path d="M-9.9,3 H-3.4 M3.4,3 H9.9" stroke="#6a6a6a" stroke-width="1.65"/><path d="M-3.8,3 C-2,3 -1.4,0.4 0,0.4 C1.4,0.4 2,3 3.8,3" stroke="#111" stroke-width="1.35" stroke-linecap="round"/></g></svg>
<div class="c" style="left:820.0px;top:555px;font-size:12.4px;color:#333;letter-spacing:0.1px">5:59AM</div>
<svg class="abs" style="left:1108px;top:532px" width="26" height="26" viewBox="-12.00 -12.00 26 26"><g fill="none"><path d="M-5.45,-0.1 A5.45,5.45 0 0 1 5.45,-0.1" stroke="#0a0a0a" stroke-width="1.3" stroke-linecap="round"/><path d="M-6.9,-6.9 L-5.5,-5.5 M6.9,-6.9 L5.5,-5.5" stroke="#111" stroke-width="1.3" stroke-linecap="round"/><path d="M0,-9.8 V-7.7" stroke="#555" stroke-width="1.8"/><path d="M-9.9,-0.1 H-7.2 M7.2,-0.1 H9.9" stroke="#6a6a6a" stroke-width="1.65"/><path d="M-9.9,3 H-3.4 M3.4,3 H9.9" stroke="#6a6a6a" stroke-width="1.65"/><path d="M-3.8,3 C-2,3 -1.4,0.4 0,0.4 C1.4,0.4 2,3 3.8,3" stroke="#111" stroke-width="1.35" stroke-linecap="round"/></g></svg>
<div class="c" style="left:1120.0px;top:555px;font-size:12.4px;color:#333;letter-spacing:0.1px">6:00AM</div>
<svg class="abs" style="left:1348px;top:532px" width="26" height="26" viewBox="-12.00 -12.00 26 26"><g fill="none"><path d="M-5.45,-0.1 A5.45,5.45 0 0 1 5.45,-0.1" stroke="#0a0a0a" stroke-width="1.3" stroke-linecap="round"/><path d="M-6.9,-6.9 L-5.5,-5.5 M6.9,-6.9 L5.5,-5.5" stroke="#111" stroke-width="1.3" stroke-linecap="round"/><path d="M0,-9.8 V-7.7" stroke="#555" stroke-width="1.8"/><path d="M-9.9,-0.1 H-7.2 M7.2,-0.1 H9.9" stroke="#6a6a6a" stroke-width="1.65"/><path d="M-9.9,3 H-3.4 M3.4,3 H9.9" stroke="#6a6a6a" stroke-width="1.65"/><path d="M-3.8,3 C-2,3 -1.4,0.4 0,0.4 C1.4,0.4 2,3 3.8,3" stroke="#111" stroke-width="1.35" stroke-linecap="round"/></g></svg>
<div class="c" style="left:1360.0px;top:555px;font-size:12.4px;color:#333;letter-spacing:0.1px">6:00AM</div>
<svg class="abs" style="left:1592px;top:532px" width="26" height="26" viewBox="-12.00 -12.00 26 26"><g fill="none"><path d="M-5.45,-0.1 A5.45,5.45 0 0 1 5.45,-0.1" stroke="#0a0a0a" stroke-width="1.3" stroke-linecap="round"/><path d="M-6.9,-6.9 L-5.5,-5.5 M6.9,-6.9 L5.5,-5.5" stroke="#111" stroke-width="1.3" stroke-linecap="round"/><path d="M0,-9.8 V-7.7" stroke="#555" stroke-width="1.8"/><path d="M-9.9,-0.1 H-7.2 M7.2,-0.1 H9.9" stroke="#6a6a6a" stroke-width="1.65"/><path d="M-9.9,3 H-3.4 M3.4,3 H9.9" stroke="#6a6a6a" stroke-width="1.65"/><path d="M-3.8,3 C-2,3 -1.4,0.4 0,0.4 C1.4,0.4 2,3 3.8,3" stroke="#111" stroke-width="1.35" stroke-linecap="round"/></g></svg>
<div class="c" style="left:1604.0px;top:555px;font-size:12.4px;color:#333;letter-spacing:0.1px">6:01AM</div>
<svg class="abs" style="left:268px;top:532px" width="26" height="26" viewBox="-12.00 -12.00 26 26"><g fill="none"><path d="M-5.45,-0.1 A5.45,5.45 0 0 1 5.45,-0.1" stroke="#0a0a0a" stroke-width="1.3" stroke-linecap="round"/><path d="M-6.9,-6.9 L-5.5,-5.5 M6.9,-6.9 L5.5,-5.5" stroke="#111" stroke-width="1.3" stroke-linecap="round"/><path d="M0,-9.8 V-7.7" stroke="#555" stroke-width="1.8"/><path d="M-9.9,-0.1 H-7.2 M7.2,-0.1 H9.9" stroke="#6a6a6a" stroke-width="1.65"/><path d="M-9.9,2.7 H-3.4 M3.4,2.7 H9.9" stroke="#6a6a6a" stroke-width="1.65"/><path d="M-3.8,2.7 C-2,2.7 -1.4,5.3 0,5.3 C1.4,5.3 2,2.7 3.8,2.7" stroke="#111" stroke-width="1.35" stroke-linecap="round"/></g></svg>
<div class="c" style="left:280.0px;top:555px;font-size:12.4px;color:#333;letter-spacing:0.1px">8:44PM</div>
<svg class="abs" style="left:508px;top:532px" width="26" height="26" viewBox="-12.00 -12.00 26 26"><g fill="none"><path d="M-5.45,-0.1 A5.45,5.45 0 0 1 5.45,-0.1" stroke="#0a0a0a" stroke-width="1.3" stroke-linecap="round"/><path d="M-6.9,-6.9 L-5.5,-5.5 M6.9,-6.9 L5.5,-5.5" stroke="#111" stroke-width="1.3" stroke-linecap="round"/><path d="M0,-9.8 V-7.7" stroke="#555" stroke-width="1.8"/><path d="M-9.9,-0.1 H-7.2 M7.2,-0.1 H9.9" stroke="#6a6a6a" stroke-width="1.65"/><path d="M-9.9,2.7 H-3.4 M3.4,2.7 H9.9" stroke="#6a6a6a" stroke-width="1.65"/><path d="M-3.8,2.7 C-2,2.7 -1.4,5.3 0,5.3 C1.4,5.3 2,2.7 3.8,2.7" stroke="#111" stroke-width="1.35" stroke-linecap="round"/></g></svg>
<div class="c" style="left:520.0px;top:555px;font-size:12.4px;color:#333;letter-spacing:0.1px">8:44PM</div>
<svg class="abs" style="left:748px;top:532px" width="26" height="26" viewBox="-12.00 -12.00 26 26"><g fill="none"><path d="M-5.45,-0.1 A5.45,5.45 0 0 1 5.45,-0.1" stroke="#0a0a0a" stroke-width="1.3" stroke-linecap="round"/><path d="M-6.9,-6.9 L-5.5,-5.5 M6.9,-6.9 L5.5,-5.5" stroke="#111" stroke-width="1.3" stroke-linecap="round"/><path d="M0,-9.8 V-7.7" stroke="#555" stroke-width="1.8"/><path d="M-9.9,-0.1 H-7.2 M7.2,-0.1 H9.9" stroke="#6a6a6a" stroke-width="1.65"/><path d="M-9.9,2.7 H-3.4 M3.4,2.7 H9.9" stroke="#6a6a6a" stroke-width="1.65"/><path d="M-3.8,2.7 C-2,2.7 -1.4,5.3 0,5.3 C1.4,5.3 2,2.7 3.8,2.7" stroke="#111" stroke-width="1.35" stroke-linecap="round"/></g></svg>
<div class="c" style="left:760.0px;top:555px;font-size:12.4px;color:#333;letter-spacing:0.1px">8:45PM</div>
<svg class="abs" style="left:988px;top:532px" width="26" height="26" viewBox="-12.00 -12.00 26 26"><g fill="none"><path d="M-5.45,-0.1 A5.45,5.45 0 0 1 5.45,-0.1" stroke="#0a0a0a" stroke-width="1.3" stroke-linecap="round"/><path d="M-6.9,-6.9 L-5.5,-5.5 M6.9,-6.9 L5.5,-5.5" stroke="#111" stroke-width="1.3" stroke-linecap="round"/><path d="M0,-9.8 V-7.7" stroke="#555" stroke-width="1.8"/><path d="M-9.9,-0.1 H-7.2 M7.2,-0.1 H9.9" stroke="#6a6a6a" stroke-width="1.65"/><path d="M-9.9,2.7 H-3.4 M3.4,2.7 H9.9" stroke="#6a6a6a" stroke-width="1.65"/><path d="M-3.8,2.7 C-2,2.7 -1.4,5.3 0,5.3 C1.4,5.3 2,2.7 3.8,2.7" stroke="#111" stroke-width="1.35" stroke-linecap="round"/></g></svg>
<div class="c" style="left:1000.0px;top:555px;font-size:12.4px;color:#333;letter-spacing:0.1px">8:45PM</div>
<svg class="abs" style="left:1228px;top:532px" width="26" height="26" viewBox="-12.00 -12.00 26 26"><g fill="none"><path d="M-5.45,-0.1 A5.45,5.45 0 0 1 5.45,-0.1" stroke="#0a0a0a" stroke-width="1.3" stroke-linecap="round"/><path d="M-6.9,-6.9 L-5.5,-5.5 M6.9,-6.9 L5.5,-5.5" stroke="#111" stroke-width="1.3" stroke-linecap="round"/><path d="M0,-9.8 V-7.7" stroke="#555" stroke-width="1.8"/><path d="M-9.9,-0.1 H-7.2 M7.2,-0.1 H9.9" stroke="#6a6a6a" stroke-width="1.65"/><path d="M-9.9,2.7 H-3.4 M3.4,2.7 H9.9" stroke="#6a6a6a" stroke-width="1.65"/><path d="M-3.8,2.7 C-2,2.7 -1.4,5.3 0,5.3 C1.4,5.3 2,2.7 3.8,2.7" stroke="#111" stroke-width="1.35" stroke-linecap="round"/></g></svg>
<div class="c" style="left:1240.0px;top:555px;font-size:12.4px;color:#333;letter-spacing:0.1px">8:45PM</div>
<svg class="abs" style="left:1468px;top:532px" width="26" height="26" viewBox="-12.00 -12.00 26 26"><g fill="none"><path d="M-5.45,-0.1 A5.45,5.45 0 0 1 5.45,-0.1" stroke="#0a0a0a" stroke-width="1.3" stroke-linecap="round"/><path d="M-6.9,-6.9 L-5.5,-5.5 M6.9,-6.9 L5.5,-5.5" stroke="#111" stroke-width="1.3" stroke-linecap="round"/><path d="M0,-9.8 V-7.7" stroke="#555" stroke-width="1.8"/><path d="M-9.9,-0.1 H-7.2 M7.2,-0.1 H9.9" stroke="#6a6a6a" stroke-width="1.65"/><path d="M-9.9,2.7 H-3.4 M3.4,2.7 H9.9" stroke="#6a6a6a" stroke-width="1.65"/><path d="M-3.8,2.7 C-2,2.7 -1.4,5.3 0,5.3 C1.4,5.3 2,2.7 3.8,2.7" stroke="#111" stroke-width="1.35" stroke-linecap="round"/></g></svg>
<div class="c" style="left:1480.0px;top:555px;font-size:12.4px;color:#333;letter-spacing:0.1px">8:45PM</div>
<svg class="abs" style="left:1712px;top:532px" width="26" height="26" viewBox="-12.00 -12.00 26 26"><g fill="none"><path d="M-5.45,-0.1 A5.45,5.45 0 0 1 5.45,-0.1" stroke="#0a0a0a" stroke-width="1.3" stroke-linecap="round"/><path d="M-6.9,-6.9 L-5.5,-5.5 M6.9,-6.9 L5.5,-5.5" stroke="#111" stroke-width="1.3" stroke-linecap="round"/><path d="M0,-9.8 V-7.7" stroke="#555" stroke-width="1.8"/><path d="M-9.9,-0.1 H-7.2 M7.2,-0.1 H9.9" stroke="#6a6a6a" stroke-width="1.65"/><path d="M-9.9,2.7 H-3.4 M3.4,2.7 H9.9" stroke="#6a6a6a" stroke-width="1.65"/><path d="M-3.8,2.7 C-2,2.7 -1.4,5.3 0,5.3 C1.4,5.3 2,2.7 3.8,2.7" stroke="#111" stroke-width="1.35" stroke-linecap="round"/></g></svg>
<div class="c" style="left:1724.0px;top:555px;font-size:12.4px;color:#333;letter-spacing:0.1px">8:45PM</div>
<div class="c" style="left:35px;top:584.2px;font-size:15px;color:#333">Moon</div>
<div class="c" style="left:35px;top:613px;font-size:14.1px;color:#333">Set</div>
<div class="c" style="left:35px;top:633px;font-size:14px;color:#333">Rise</div>
<svg class="abs" style="left:89px;top:579px" width="26" height="26" viewBox="-12.50 -12.50 26 26"><circle cx="0" cy="0" r="9.4" fill="#fff"/><path d="M0,-9.4 A9.4,9.4 0 0 0 0,9.4 A1.22,9.4 0 0 0 0,-9.4 Z" fill="#999"/><path d="M0,9.4 A1.22,9.4 0 0 0 0,-9.4" fill="none" stroke="#111" stroke-width="0.95"/><circle cx="0" cy="0" r="9.4" fill="none" stroke="#111" stroke-width="1.05"/></svg>
<svg class="abs" style="left:88px;top:613px" width="26" height="26" viewBox="-12.00 -12.90 26 26"><g fill="none"><path d="M-6.5,-3.45 A6.5,6.5 0 0 1 6.5,-3.45" stroke="#0a0a0a" stroke-width="1.3" stroke-linecap="round"/><path d="M-9.85,0 H-3.2 M3.2,0 H9.85" stroke="#6a6a6a" stroke-width="1.65"/><path d="M-3.6,0 C-1.9,0 -1.3,2.7 0,2.7 C1.3,2.7 1.9,0 3.6,0" stroke="#111" stroke-width="1.35" stroke-linecap="round"/></g></svg>
<div class="c" style="left:100.0px;top:633.5px;font-size:12.4px;color:#333;letter-spacing:0.1px">00:06AM</div>
<svg class="abs" style="left:329px;top:579px" width="26" height="26" viewBox="-12.50 -12.50 26 26"><circle cx="0" cy="0" r="9.4" fill="#fff"/><path d="M0,-9.4 A9.4,9.4 0 0 0 0,9.4 A0.00,9.4 0 0 1 0,-9.4 Z" fill="#999"/><path d="M0,9.4 A0.00,9.4 0 0 1 0,-9.4" fill="none" stroke="#111" stroke-width="0.95"/><circle cx="0" cy="0" r="9.4" fill="none" stroke="#111" stroke-width="1.05"/></svg>
<svg class="abs" style="left:328px;top:613px" width="26" height="26" viewBox="-12.00 -12.90 26 26"><g fill="none"><path d="M-6.5,-3.45 A6.5,6.5 0 0 1 6.5,-3.45" stroke="#0a0a0a" stroke-width="1.3" stroke-linecap="round"/><path d="M-9.85,0 H-3.2 M3.2,0 H9.85" stroke="#6a6a6a" stroke-width="1.65"/><path d="M-3.6,0 C-1.9,0 -1.3,2.7 0,2.7 C1.3,2.7 1.9,0 3.6,0" stroke="#111" stroke-width="1.35" stroke-linecap="round"/></g></svg>
<div class="c" style="left:340.0px;top:633.5px;font-size:12.4px;color:#333;letter-spacing:0.1px">00:30AM</div>
<svg class="abs" style="left:569px;top:579px" width="26" height="26" viewBox="-12.50 -12.50 26 26"><circle cx="0" cy="0" r="9.4" fill="#fff"/><path d="M0,-9.4 A9.4,9.4 0 0 0 0,9.4 A1.41,9.4 0 0 1 0,-9.4 Z" fill="#999"/><path d="M0,9.4 A1.41,9.4 0 0 1 0,-9.4" fill="none" stroke="#111" stroke-width="0.95"/><circle cx="0" cy="0" r="9.4" fill="none" stroke="#111" stroke-width="1.05"/></svg>
<svg class="abs" style="left:568px;top:613px" width="26" height="26" viewBox="-12.00 -12.90 26 26"><g fill="none"><path d="M-6.5,-3.45 A6.5,6.5 0 0 1 6.5,-3.45" stroke="#0a0a0a" stroke-width="1.3" stroke-linecap="round"/><path d="M-9.85,0 H-3.2 M3.2,0 H9.85" stroke="#6a6a6a" stroke-width="1.65"/><path d="M-3.6,0 C-1.9,0 -1.3,2.7 0,2.7 C1.3,2.7 1.9,0 3.6,0" stroke="#111" stroke-width="1.35" stroke-linecap="round"/></g></svg>
<div class="c" style="left:580.0px;top:633.5px;font-size:12.4px;color:#333;letter-spacing:0.1px">00:54AM</div>
<svg class="abs" style="left:809px;top:579px" width="26" height="26" viewBox="-12.50 -12.50 26 26"><circle cx="0" cy="0" r="9.4" fill="#fff"/><path d="M0,-9.4 A9.4,9.4 0 0 0 0,9.4 A2.44,9.4 0 0 1 0,-9.4 Z" fill="#999"/><path d="M0,9.4 A2.44,9.4 0 0 1 0,-9.4" fill="none" stroke="#111" stroke-width="0.95"/><circle cx="0" cy="0" r="9.4" fill="none" stroke="#111" stroke-width="1.05"/></svg>
<svg class="abs" style="left:808px;top:613px" width="26" height="26" viewBox="-12.00 -12.90 26 26"><g fill="none"><path d="M-6.5,-3.45 A6.5,6.5 0 0 1 6.5,-3.45" stroke="#0a0a0a" stroke-width="1.3" stroke-linecap="round"/><path d="M-9.85,0 H-3.2 M3.2,0 H9.85" stroke="#6a6a6a" stroke-width="1.65"/><path d="M-3.6,0 C-1.9,0 -1.3,2.7 0,2.7 C1.3,2.7 1.9,0 3.6,0" stroke="#111" stroke-width="1.35" stroke-linecap="round"/></g></svg>
<div class="c" style="left:820.0px;top:633.5px;font-size:12.4px;color:#333;letter-spacing:0.1px">1:19AM</div>
<svg class="abs" style="left:1049px;top:579px" width="26" height="26" viewBox="-12.50 -12.50 26 26"><circle cx="0" cy="0" r="9.4" fill="#fff"/><path d="M0,-9.4 A9.4,9.4 0 0 0 0,9.4 A3.48,9.4 0 0 1 0,-9.4 Z" fill="#999"/><path d="M0,9.4 A3.48,9.4 0 0 1 0,-9.4" fill="none" stroke="#111" stroke-width="0.95"/><circle cx="0" cy="0" r="9.4" fill="none" stroke="#111" stroke-width="1.05"/></svg>
<svg class="abs" style="left:1048px;top:613px" width="26" height="26" viewBox="-12.00 -12.90 26 26"><g fill="none"><path d="M-6.5,-3.45 A6.5,6.5 0 0 1 6.5,-3.45" stroke="#0a0a0a" stroke-width="1.3" stroke-linecap="round"/><path d="M-9.85,0 H-3.2 M3.2,0 H9.85" stroke="#6a6a6a" stroke-width="1.65"/><path d="M-3.6,0 C-1.9,0 -1.3,2.7 0,2.7 C1.3,2.7 1.9,0 3.6,0" stroke="#111" stroke-width="1.35" stroke-linecap="round"/></g></svg>
<div class="c" style="left:1060.0px;top:633.5px;font-size:12.4px;color:#333;letter-spacing:0.1px">1:48AM</div>
<svg class="abs" style="left:1289px;top:579px" width="26" height="26" viewBox="-12.50 -12.50 26 26"><circle cx="0" cy="0" r="9.4" fill="#fff"/><path d="M0,-9.4 A9.4,9.4 0 0 0 0,9.4 A4.89,9.4 0 0 1 0,-9.4 Z" fill="#999"/><path d="M0,9.4 A4.89,9.4 0 0 1 0,-9.4" fill="none" stroke="#111" stroke-width="0.95"/><circle cx="0" cy="0" r="9.4" fill="none" stroke="#111" stroke-width="1.05"/></svg>
<svg class="abs" style="left:1288px;top:613px" width="26" height="26" viewBox="-12.00 -12.90 26 26"><g fill="none"><path d="M-6.5,-3.45 A6.5,6.5 0 0 1 6.5,-3.45" stroke="#0a0a0a" stroke-width="1.3" stroke-linecap="round"/><path d="M-9.85,0 H-3.2 M3.2,0 H9.85" stroke="#6a6a6a" stroke-width="1.65"/><path d="M-3.6,0 C-1.9,0 -1.3,2.7 0,2.7 C1.3,2.7 1.9,0 3.6,0" stroke="#111" stroke-width="1.35" stroke-linecap="round"/></g></svg>
<div class="c" style="left:1300.0px;top:633.5px;font-size:12.4px;color:#333;letter-spacing:0.1px">2:22AM</div>
<svg class="abs" style="left:1531px;top:579px" width="26" height="26" viewBox="-12.50 -12.50 26 26"><circle cx="0" cy="0" r="9.4" fill="#fff"/><path d="M0,-9.4 A9.4,9.4 0 0 0 0,9.4 A6.39,9.4 0 0 1 0,-9.4 Z" fill="#999"/><path d="M0,9.4 A6.39,9.4 0 0 1 0,-9.4" fill="none" stroke="#111" stroke-width="0.95"/><circle cx="0" cy="0" r="9.4" fill="none" stroke="#111" stroke-width="1.05"/></svg>
<svg class="abs" style="left:1530px;top:613px" width="26" height="26" viewBox="-12.00 -12.90 26 26"><g fill="none"><path d="M-6.5,-3.45 A6.5,6.5 0 0 1 6.5,-3.45" stroke="#0a0a0a" stroke-width="1.3" stroke-linecap="round"/><path d="M-9.85,0 H-3.2 M3.2,0 H9.85" stroke="#6a6a6a" stroke-width="1.65"/><path d="M-3.6,0 C-1.9,0 -1.3,2.7 0,2.7 C1.3,2.7 1.9,0 3.6,0" stroke="#111" stroke-width="1.35" stroke-linecap="round"/></g></svg>
<div class="c" style="left:1542.0px;top:633.5px;font-size:12.4px;color:#333;letter-spacing:0.1px">3:05AM</div>
<svg class="abs" style="left:149px;top:579px" width="26" height="26" viewBox="-12.50 -12.50 26 26"><circle cx="0" cy="0" r="9.4" fill="#fff"/><path d="M0,-9.4 A9.4,9.4 0 0 0 0,9.4 A0.56,9.4 0 0 0 0,-9.4 Z" fill="#999"/><path d="M0,9.4 A0.56,9.4 0 0 0 0,-9.4" fill="none" stroke="#111" stroke-width="0.95"/><circle cx="0" cy="0" r="9.4" fill="none" stroke="#111" stroke-width="1.05"/></svg>
<svg class="abs" style="left:148px;top:613px" width="26" height="26" viewBox="-12.00 -12.90 26 26"><g fill="none"><path d="M-6.5,-3.45 A6.5,6.5 0 0 1 6.5,-3.45" stroke="#0a0a0a" stroke-width="1.3" stroke-linecap="round"/><path d="M-9.85,0 H-3.2 M3.2,0 H9.85" stroke="#6a6a6a" stroke-width="1.65"/><path d="M-3.6,0 C-1.9,0 -1.3,-2.7 0,-2.7 C1.3,-2.7 1.9,0 3.6,0" stroke="#111" stroke-width="1.35" stroke-linecap="round"/></g></svg>
<div class="c" style="left:160.0px;top:633.5px;font-size:12.4px;color:#333;letter-spacing:0.1px">11:36AM</div>
<svg class="abs" style="left:449px;top:579px" width="26" height="26" viewBox="-12.50 -12.50 26 26"><circle cx="0" cy="0" r="9.4" fill="#fff"/><path d="M0,-9.4 A9.4,9.4 0 0 0 0,9.4 A0.56,9.4 0 0 1 0,-9.4 Z" fill="#999"/><path d="M0,9.4 A0.56,9.4 0 0 1 0,-9.4" fill="none" stroke="#111" stroke-width="0.95"/><circle cx="0" cy="0" r="9.4" fill="none" stroke="#111" stroke-width="1.05"/></svg>
<svg class="abs" style="left:448px;top:613px" width="26" height="26" viewBox="-12.00 -12.90 26 26"><g fill="none"><path d="M-6.5,-3.45 A6.5,6.5 0 0 1 6.5,-3.45" stroke="#0a0a0a" stroke-width="1.3" stroke-linecap="round"/><path d="M-9.85,0 H-3.2 M3.2,0 H9.85" stroke="#6a6a6a" stroke-width="1.65"/><path d="M-3.6,0 C-1.9,0 -1.3,-2.7 0,-2.7 C1.3,-2.7 1.9,0 3.6,0" stroke="#111" stroke-width="1.35" stroke-linecap="round"/></g></svg>
<div class="c" style="left:460.0px;top:633.5px;font-size:12.4px;color:#333;letter-spacing:0.1px">12:42PM</div>
<svg class="abs" style="left:689px;top:579px" width="26" height="26" viewBox="-12.50 -12.50 26 26"><circle cx="0" cy="0" r="9.4" fill="#fff"/><path d="M0,-9.4 A9.4,9.4 0 0 0 0,9.4 A1.79,9.4 0 0 1 0,-9.4 Z" fill="#999"/><path d="M0,9.4 A1.79,9.4 0 0 1 0,-9.4" fill="none" stroke="#111" stroke-width="0.95"/><circle cx="0" cy="0" r="9.4" fill="none" stroke="#111" stroke-width="1.05"/></svg>
<svg class="abs" style="left:688px;top:613px" width="26" height="26" viewBox="-12.00 -12.90 26 26"><g fill="none"><path d="M-6.5,-3.45 A6.5,6.5 0 0 1 6.5,-3.45" stroke="#0a0a0a" stroke-width="1.3" stroke-linecap="round"/><path d="M-9.85,0 H-3.2 M3.2,0 H9.85" stroke="#6a6a6a" stroke-width="1.65"/><path d="M-3.6,0 C-1.9,0 -1.3,-2.7 0,-2.7 C1.3,-2.7 1.9,0 3.6,0" stroke="#111" stroke-width="1.35" stroke-linecap="round"/></g></svg>
<div class="c" style="left:700.0px;top:633.5px;font-size:12.4px;color:#333;letter-spacing:0.1px">1:49PM</div>
<svg class="abs" style="left:929px;top:579px" width="26" height="26" viewBox="-12.50 -12.50 26 26"><circle cx="0" cy="0" r="9.4" fill="#fff"/><path d="M0,-9.4 A9.4,9.4 0 0 0 0,9.4 A2.91,9.4 0 0 1 0,-9.4 Z" fill="#999"/><path d="M0,9.4 A2.91,9.4 0 0 1 0,-9.4" fill="none" stroke="#111" stroke-width="0.95"/><circle cx="0" cy="0" r="9.4" fill="none" stroke="#111" stroke-width="1.05"/></svg>
<svg class="abs" style="left:928px;top:613px" width="26" height="26" viewBox="-12.00 -12.90 26 26"><g fill="none"><path d="M-6.5,-3.45 A6.5,6.5 0 0 1 6.5,-3.45" stroke="#0a0a0a" stroke-width="1.3" stroke-linecap="round"/><path d="M-9.85,0 H-3.2 M3.2,0 H9.85" stroke="#6a6a6a" stroke-width="1.65"/><path d="M-3.6,0 C-1.9,0 -1.3,-2.7 0,-2.7 C1.3,-2.7 1.9,0 3.6,0" stroke="#111" stroke-width="1.35" stroke-linecap="round"/></g></svg>
<div class="c" style="left:940.0px;top:633.5px;font-size:12.4px;color:#333;letter-spacing:0.1px">2:59PM</div>
<svg class="abs" style="left:1169px;top:579px" width="26" height="26" viewBox="-12.50 -12.50 26 26"><circle cx="0" cy="0" r="9.4" fill="#fff"/><path d="M0,-9.4 A9.4,9.4 0 0 0 0,9.4 A4.14,9.4 0 0 1 0,-9.4 Z" fill="#999"/><path d="M0,9.4 A4.14,9.4 0 0 1 0,-9.4" fill="none" stroke="#111" stroke-width="0.95"/><circle cx="0" cy="0" r="9.4" fill="none" stroke="#111" stroke-width="1.05"/></svg>
<svg class="abs" style="left:1168px;top:613px" width="26" height="26" viewBox="-12.00 -12.90 26 26"><g fill="none"><path d="M-6.5,-3.45 A6.5,6.5 0 0 1 6.5,-3.45" stroke="#0a0a0a" stroke-width="1.3" stroke-linecap="round"/><path d="M-9.85,0 H-3.2 M3.2,0 H9.85" stroke="#6a6a6a" stroke-width="1.65"/><path d="M-3.6,0 C-1.9,0 -1.3,-2.7 0,-2.7 C1.3,-2.7 1.9,0 3.6,0" stroke="#111" stroke-width="1.35" stroke-linecap="round"/></g></svg>
<div class="c" style="left:1180.0px;top:633.5px;font-size:12.4px;color:#333;letter-spacing:0.1px">4:14PM</div>
<svg class="abs" style="left:1409px;top:579px" width="26" height="26" viewBox="-12.50 -12.50 26 26"><circle cx="0" cy="0" r="9.4" fill="#fff"/><path d="M0,-9.4 A9.4,9.4 0 0 0 0,9.4 A5.64,9.4 0 0 1 0,-9.4 Z" fill="#999"/><path d="M0,9.4 A5.64,9.4 0 0 1 0,-9.4" fill="none" stroke="#111" stroke-width="0.95"/><circle cx="0" cy="0" r="9.4" fill="none" stroke="#111" stroke-width="1.05"/></svg>
<svg class="abs" style="left:1408px;top:613px" width="26" height="26" viewBox="-12.00 -12.90 26 26"><g fill="none"><path d="M-6.5,-3.45 A6.5,6.5 0 0 1 6.5,-3.45" stroke="#0a0a0a" stroke-width="1.3" stroke-linecap="round"/><path d="M-9.85,0 H-3.2 M3.2,0 H9.85" stroke="#6a6a6a" stroke-width="1.65"/><path d="M-3.6,0 C-1.9,0 -1.3,-2.7 0,-2.7 C1.3,-2.7 1.9,0 3.6,0" stroke="#111" stroke-width="1.35" stroke-linecap="round"/></g></svg>
<div class="c" style="left:1420.0px;top:633.5px;font-size:12.4px;color:#333;letter-spacing:0.1px">5:31PM</div>
<svg class="abs" style="left:1713px;top:579px" width="26" height="26" viewBox="-12.50 -12.50 26 26"><circle cx="0" cy="0" r="9.4" fill="#fff"/><path d="M0,-9.4 A9.4,9.4 0 0 0 0,9.4 A7.33,9.4 0 0 1 0,-9.4 Z" fill="#999"/><path d="M0,9.4 A7.33,9.4 0 0 1 0,-9.4" fill="none" stroke="#111" stroke-width="0.95"/><circle cx="0" cy="0" r="9.4" fill="none" stroke="#111" stroke-width="1.05"/></svg>
<svg class="abs" style="left:1712px;top:613px" width="26" height="26" viewBox="-12.00 -12.90 26 26"><g fill="none"><path d="M-6.5,-3.45 A6.5,6.5 0 0 1 6.5,-3.45" stroke="#0a0a0a" stroke-width="1.3" stroke-linecap="round"/><path d="M-9.85,0 H-3.2 M3.2,0 H9.85" stroke="#6a6a6a" stroke-width="1.65"/><path d="M-3.6,0 C-1.9,0 -1.3,-2.7 0,-2.7 C1.3,-2.7 1.9,0 3.6,0" stroke="#111" stroke-width="1.35" stroke-linecap="round"/></g></svg>
<div class="c" style="left:1724.0px;top:633.5px;font-size:12.4px;color:#333;letter-spacing:0.1px">6:49PM</div>
<div class="abs" style="left:0;top:652px;width:69px;height:1.3px;background:#34587a"></div>
<div class="abs" style="left:71px;top:652px;width:59px;height:1.3px;background:#34587a"></div>
<div class="abs" style="left:131px;top:652px;width:59px;height:1.3px;background:#34587a"></div>
<div class="abs" style="left:191px;top:652px;width:59px;height:1.3px;background:#34587a"></div>
<div class="abs" style="left:251px;top:652px;width:59px;height:1.3px;background:#34587a"></div>
<div class="abs" style="left:311px;top:652px;width:59px;height:1.3px;background:#34587a"></div>
<div class="abs" style="left:371px;top:652px;width:59px;height:1.3px;background:#34587a"></div>
<div class="abs" style="left:431px;top:652px;width:59px;height:1.3px;background:#34587a"></div>
<div class="abs" style="left:491px;top:652px;width:59px;height:1.3px;background:#34587a"></div>
<div class="abs" style="left:551px;top:652px;width:59px;height:1.3px;background:#34587a"></div>
<div class="abs" style="left:611px;top:652px;width:59px;height:1.3px;background:#34587a"></div>
<div class="abs" style="left:671px;top:652px;width:59px;height:1.3px;background:#34587a"></div>
<div class="abs" style="left:731px;top:652px;width:59px;height:1.3px;background:#34587a"></div>
<div class="abs" style="left:791px;top:652px;width:59px;height:1.3px;background:#34587a"></div>
<div class="abs" style="left:851px;top:652px;width:59px;height:1.3px;background:#34587a"></div>
<div class="abs" style="left:911px;top:652px;width:59px;height:1.3px;background:#34587a"></div>
<div class="abs" style="left:971px;top:652px;width:59px;height:1.3px;background:#34587a"></div>
<div class="abs" style="left:1031px;top:652px;width:59px;height:1.3px;background:#34587a"></div>
<div class="abs" style="left:1091px;top:652px;width:59px;height:1.3px;background:#34587a"></div>
<div class="abs" style="left:1151px;top:652px;width:59px;height:1.3px;background:#34587a"></div>
<div class="abs" style="left:1211px;top:652px;width:59px;height:1.3px;background:#34587a"></div>
<div class="abs" style="left:1271px;top:652px;width:59px;height:1.3px;background:#34587a"></div>
<div class="abs" style="left:1331px;top:652px;width:59px;height:1.3px;background:#34587a"></div>
<div class="abs" style="left:1391px;top:652px;width:59px;height:1.3px;background:#34587a"></div>
<div class="abs" style="left:1451px;top:652px;width:59px;height:1.3px;background:#34587a"></div>
<div class="abs" style="left:1511px;top:652px;width:63px;height:1.3px;background:#34587a"></div>
<div class="abs" style="left:1575px;top:652px;width:59px;height:1.3px;background:#34587a"></div>
<div class="abs" style="left:1635px;top:652px;width:59px;height:1.3px;background:#34587a"></div>
<div class="abs" style="left:1695px;top:652px;width:59px;height:1.3px;background:#34587a"></div>
<div class="abs" style="left:70px;top:653.3px;width:1682px;height:47px;background:#fff"></div>
<div class="c" style="left:35px;top:658.7px;font-size:15px;color:#333">Wind</div>
<div class="c" style="left:35px;top:674.8px;font-size:15px;color:#333">(<span style="color:#4a80b5;text-decoration:underline">km/h</span>)</div>
<svg class="abs" style="left:76px;top:653px" width="50" height="48" viewBox="-24.00 -23.05 50 48"><g transform="rotate(0)"><path d="M0,-19.4 L6.9,-13.2 L2,-13.2 L2,-8 L-2,-8 L-2,-13.2 L-6.9,-13.2 Z" fill="#000"/></g><circle cx="0" cy="0" r="10.4" fill="#000"/><text x="0" y="4.9" text-anchor="middle" font-family='"Liberation Sans",sans-serif' font-size="14.9" letter-spacing="-0.9" transform="scale(0.915,1)" fill="#19e619" opacity="0.999">25</text></svg>
<svg class="abs" style="left:136px;top:653px" width="50" height="48" viewBox="-24.00 -23.05 50 48"><g transform="rotate(0)"><path d="M0,-19.4 L6.9,-13.2 L2,-13.2 L2,-8 L-2,-8 L-2,-13.2 L-6.9,-13.2 Z" fill="#000"/></g><circle cx="0" cy="0" r="10.4" fill="#000"/><text x="0" y="4.9" text-anchor="middle" font-family='"Liberation Sans",sans-serif' font-size="14.9" letter-spacing="-0.9" transform="scale(0.915,1)" fill="#19e619" opacity="0.999">25</text></svg>
<svg class="abs" style="left:196px;top:653px" width="50" height="48" viewBox="-24.00 -23.05 50 48"><g transform="rotate(0)"><path d="M0,-19.4 L6.9,-13.2 L2,-13.2 L2,-8 L-2,-8 L-2,-13.2 L-6.9,-13.2 Z" fill="#000"/></g><circle cx="0" cy="0" r="10.4" fill="#000"/><text x="0" y="4.9" text-anchor="middle" font-family='"Liberation Sans",sans-serif' font-size="14.9" letter-spacing="-0.9" transform="scale(0.915,1)" fill="#19e619" opacity="0.999">25</text></svg>
<svg class="abs" style="left:256px;top:653px" width="50" height="48" viewBox="-24.00 -23.05 50 48"><g transform="rotate(0)"><path d="M0,-19.4 L6.9,-13.2 L2,-13.2 L2,-8 L-2,-8 L-2,-13.2 L-6.9,-13.2 Z" fill="#000"/></g><circle cx="0" cy="0" r="10.4" fill="#000"/><text x="0" y="4.9" text-anchor="middle" font-family='"Liberation Sans",sans-serif' font-size="14.9" letter-spacing="-0.9" transform="scale(0.915,1)" fill="#19e619" opacity="0.999">20</text></svg>
<svg class="abs" style="left:316px;top:653px" width="50" height="48" viewBox="-24.00 -23.05 50 48"><g transform="rotate(0)"><path d="M0,-19.4 L6.9,-13.2 L2,-13.2 L2,-8 L-2,-8 L-2,-13.2 L-6.9,-13.2 Z" fill="#000"/></g><circle cx="0" cy="0" r="10.4" fill="#000"/><text x="0" y="4.9" text-anchor="middle" font-family='"Liberation Sans",sans-serif' font-size="14.9" letter-spacing="-0.9" transform="scale(0.915,1)" fill="#19e619" opacity="0.999">20</text></svg>
<svg class="abs" style="left:376px;top:653px" width="50" height="48" viewBox="-24.00 -23.05 50 48"><g transform="rotate(0)"><path d="M0,-19.4 L6.9,-13.2 L2,-13.2 L2,-8 L-2,-8 L-2,-13.2 L-6.9,-13.2 Z" fill="#000"/></g><circle cx="0" cy="0" r="10.4" fill="#000"/><text x="0" y="4.9" text-anchor="middle" font-family='"Liberation Sans",sans-serif' font-size="14.9" letter-spacing="-0.9" transform="scale(0.915,1)" fill="#fff" opacity="0.999">10</text></svg>
<svg class="abs" style="left:436px;top:653px" width="50" height="48" viewBox="-24.00 -23.05 50 48"><g transform="rotate(0)"><path d="M0,-19.4 L6.9,-13.2 L2,-13.2 L2,-8 L-2,-8 L-2,-13.2 L-6.9,-13.2 Z" fill="#000"/></g><circle cx="0" cy="0" r="10.4" fill="#000"/><text x="0" y="4.9" text-anchor="middle" font-family='"Liberation Sans",sans-serif' font-size="14.9" letter-spacing="-0.9" transform="scale(0.915,1)" fill="#19e619" opacity="0.999">25</text></svg>
<svg class="abs" style="left:496px;top:653px" width="50" height="48" viewBox="-24.00 -23.05 50 48"><g transform="rotate(292.5)"><path d="M0,-19.4 L6.9,-13.2 L2,-13.2 L2,-8 L-2,-8 L-2,-13.2 L-6.9,-13.2 Z" fill="#000"/></g><circle cx="0" cy="0" r="10.4" fill="#000"/><text x="0" y="4.9" text-anchor="middle" font-family='"Liberation Sans",sans-serif' font-size="14.9" letter-spacing="-0.9" transform="scale(0.915,1)" fill="#fff" opacity="0.999">15</text></svg>
<svg class="abs" style="left:556px;top:653px" width="50" height="48" viewBox="-24.00 -23.05 50 48"><g transform="rotate(292.5)"><path d="M0,-19.4 L6.9,-13.2 L2,-13.2 L2,-8 L-2,-8 L-2,-13.2 L-6.9,-13.2 Z" fill="#000"/></g><circle cx="0" cy="0" r="10.4" fill="#000"/><text x="0" y="4.9" text-anchor="middle" font-family='"Liberation Sans",sans-serif' font-size="14.9" letter-spacing="-0.9" transform="scale(0.915,1)" fill="#fff" opacity="0.999">15</text></svg>
<svg class="abs" style="left:616px;top:653px" width="50" height="48" viewBox="-24.00 -23.05 50 48"><g transform="rotate(315)"><path d="M0,-19.4 L6.9,-13.2 L2,-13.2 L2,-8 L-2,-8 L-2,-13.2 L-6.9,-13.2 Z" fill="#000"/></g><circle cx="0" cy="0" r="10.4" fill="#000"/><text x="0" y="4.9" text-anchor="middle" font-family='"Liberation Sans",sans-serif' font-size="14.9" letter-spacing="-0.9" transform="scale(0.915,1)" fill="#fff" opacity="0.999">5</text></svg>
<svg class="abs" style="left:676px;top:653px" width="50" height="48" viewBox="-24.00 -23.05 50 48"><g transform="rotate(0)"><path d="M0,-19.4 L6.9,-13.2 L2,-13.2 L2,-8 L-2,-8 L-2,-13.2 L-6.9,-13.2 Z" fill="#000"/></g><circle cx="0" cy="0" r="10.4" fill="#000"/><text x="0" y="4.9" text-anchor="middle" font-family='"Liberation Sans",sans-serif' font-size="14.9" letter-spacing="-0.9" transform="scale(0.915,1)" fill="#fff" opacity="0.999">15</text></svg>
<svg class="abs" style="left:736px;top:653px" width="50" height="48" viewBox="-24.00 -23.05 50 48"><g transform="rotate(247.5)"><path d="M0,-19.4 L6.9,-13.2 L2,-13.2 L2,-8 L-2,-8 L-2,-13.2 L-6.9,-13.2 Z" fill="#000"/></g><circle cx="0" cy="0" r="10.4" fill="#000"/><text x="0" y="4.9" text-anchor="middle" font-family='"Liberation Sans",sans-serif' font-size="14.9" letter-spacing="-0.9" transform="scale(0.915,1)" fill="#fff" opacity="0.999">5</text></svg>
<svg class="abs" style="left:796px;top:653px" width="50" height="48" viewBox="-24.00 -23.05 50 48"><g transform="rotate(247.5)"><path d="M0,-19.4 L6.9,-13.2 L2,-13.2 L2,-8 L-2,-8 L-2,-13.2 L-6.9,-13.2 Z" fill="#000"/></g><circle cx="0" cy="0" r="10.4" fill="#000"/><text x="0" y="4.9" text-anchor="middle" font-family='"Liberation Sans",sans-serif' font-size="14.9" letter-spacing="-0.9" transform="scale(0.915,1)" fill="#fff" opacity="0.999">5</text></svg>
<svg class="abs" style="left:856px;top:653px" width="50" height="48" viewBox="-24.00 -23.05 50 48"><g transform="rotate(180)"><path d="M0,-19.4 L6.9,-13.2 L2,-13.2 L2,-8 L-2,-8 L-2,-13.2 L-6.9,-13.2 Z" fill="#000"/></g><circle cx="0" cy="0" r="10.4" fill="#000"/><text x="0" y="4.9" text-anchor="middle" font-family='"Liberation Sans",sans-serif' font-size="14.9" letter-spacing="-0.9" transform="scale(0.915,1)" fill="#fff" opacity="0.999">10</text></svg>
<svg class="abs" style="left:916px;top:653px" width="50" height="48" viewBox="-24.00 -23.05 50 48"><g transform="rotate(292.5)"><path d="M0,-19.4 L6.9,-13.2 L2,-13.2 L2,-8 L-2,-8 L-2,-13.2 L-6.9,-13.2 Z" fill="#000"/></g><circle cx="0" cy="0" r="10.4" fill="#000"/><text x="0" y="4.9" text-anchor="middle" font-family='"Liberation Sans",sans-serif' font-size="14.9" letter-spacing="-0.9" transform="scale(0.915,1)" fill="#fff" opacity="0.999">10</text></svg>
<svg class="abs" style="left:976px;top:653px" width="50" height="48" viewBox="-24.00 -23.05 50 48"><g transform="rotate(157.5)"><path d="M0,-19.4 L6.9,-13.2 L2,-13.2 L2,-8 L-2,-8 L-2,-13.2 L-6.9,-13.2 Z" fill="#000"/></g><circle cx="0" cy="0" r="10.4" fill="#000"/><text x="0" y="4.9" text-anchor="middle" font-family='"Liberation Sans",sans-serif' font-size="14.9" letter-spacing="-0.9" transform="scale(0.915,1)" fill="#fff" opacity="0.999">5</text></svg>
<svg class="abs" style="left:1036px;top:653px" width="50" height="48" viewBox="-24.00 -23.05 50 48"><g transform="rotate(157.5)"><path d="M0,-19.4 L6.9,-13.2 L2,-13.2 L2,-8 L-2,-8 L-2,-13.2 L-6.9,-13.2 Z" fill="#000"/></g><circle cx="0" cy="0" r="10.4" fill="#000"/><text x="0" y="4.9" text-anchor="middle" font-family='"Liberation Sans",sans-serif' font-size="14.9" letter-spacing="-0.9" transform="scale(0.915,1)" fill="#fff" opacity="0.999">5</text></svg>
<svg class="abs" style="left:1096px;top:653px" width="50" height="48" viewBox="-24.00 -23.05 50 48"><g transform="rotate(45)"><path d="M0,-19.4 L6.9,-13.2 L2,-13.2 L2,-8 L-2,-8 L-2,-13.2 L-6.9,-13.2 Z" fill="#000"/></g><circle cx="0" cy="0" r="10.4" fill="#000"/><text x="0" y="4.9" text-anchor="middle" font-family='"Liberation Sans",sans-serif' font-size="14.9" letter-spacing="-0.9" transform="scale(0.915,1)" fill="#19e619" opacity="0.999">25</text></svg>
<svg class="abs" style="left:1156px;top:653px" width="50" height="48" viewBox="-24.00 -23.05 50 48"><g transform="rotate(0)"><path d="M0,-19.4 L6.9,-13.2 L2,-13.2 L2,-8 L-2,-8 L-2,-13.2 L-6.9,-13.2 Z" fill="#000"/></g><circle cx="0" cy="0" r="10.4" fill="#000"/><text x="0" y="4.9" text-anchor="middle" font-family='"Liberation Sans",sans-serif' font-size="14.9" letter-spacing="-0.9" transform="scale(0.915,1)" fill="#19e619" opacity="0.999">30</text></svg>
<svg class="abs" style="left:1216px;top:653px" width="50" height="48" viewBox="-24.00 -23.05 50 48"><g transform="rotate(67.5)"><path d="M0,-19.4 L6.9,-13.2 L2,-13.2 L2,-8 L-2,-8 L-2,-13.2 L-6.9,-13.2 Z" fill="#000"/></g><circle cx="0" cy="0" r="10.4" fill="#000"/><text x="0" y="4.9" text-anchor="middle" font-family='"Liberation Sans",sans-serif' font-size="14.9" letter-spacing="-0.9" transform="scale(0.915,1)" fill="#19e619" opacity="0.999">25</text></svg>
<svg class="abs" style="left:1276px;top:653px" width="50" height="48" viewBox="-24.00 -23.05 50 48"><g transform="rotate(67.5)"><path d="M0,-19.4 L6.9,-13.2 L2,-13.2 L2,-8 L-2,-8 L-2,-13.2 L-6.9,-13.2 Z" fill="#000"/></g><circle cx="0" cy="0" r="10.4" fill="#000"/><text x="0" y="4.9" text-anchor="middle" font-family='"Liberation Sans",sans-serif' font-size="14.9" letter-spacing="-0.9" transform="scale(0.915,1)" fill="#19e619" opacity="0.999">25</text></svg>
<svg class="abs" style="left:1336px;top:653px" width="50" height="48" viewBox="-24.00 -23.05 50 48"><g transform="rotate(22.5)"><path d="M0,-19.4 L6.9,-13.2 L2,-13.2 L2,-8 L-2,-8 L-2,-13.2 L-6.9,-13.2 Z" fill="#000"/></g><circle cx="0" cy="0" r="10.4" fill="#000"/><text x="0" y="4.9" text-anchor="middle" font-family='"Liberation Sans",sans-serif' font-size="14.9" letter-spacing="-0.9" transform="scale(0.915,1)" fill="#19e619" opacity="0.999">30</text></svg>
<svg class="abs" style="left:1396px;top:653px" width="50" height="48" viewBox="-24.00 -23.05 50 48"><g transform="rotate(22.5)"><path d="M0,-19.4 L6.9,-13.2 L2,-13.2 L2,-8 L-2,-8 L-2,-13.2 L-6.9,-13.2 Z" fill="#000"/></g><circle cx="0" cy="0" r="10.4" fill="#000"/><text x="0" y="4.9" text-anchor="middle" font-family='"Liberation Sans",sans-serif' font-size="14.9" letter-spacing="-0.9" transform="scale(0.915,1)" fill="#f5f514" opacity="0.999">40</text></svg>
<svg class="abs" style="left:1456px;top:653px" width="50" height="48" viewBox="-24.00 -23.05 50 48"><g transform="rotate(22.5)"><path d="M0,-19.4 L6.9,-13.2 L2,-13.2 L2,-8 L-2,-8 L-2,-13.2 L-6.9,-13.2 Z" fill="#000"/></g><circle cx="0" cy="0" r="10.4" fill="#000"/><text x="0" y="4.9" text-anchor="middle" font-family='"Liberation Sans",sans-serif' font-size="14.9" letter-spacing="-0.9" transform="scale(0.915,1)" fill="#19e619" opacity="0.999">20</text></svg>
<svg class="abs" style="left:1518px;top:653px" width="50" height="48" viewBox="-24.00 -23.05 50 48"><g transform="rotate(22.5)"><path d="M0,-19.4 L6.9,-13.2 L2,-13.2 L2,-8 L-2,-8 L-2,-13.2 L-6.9,-13.2 Z" fill="#000"/></g><circle cx="0" cy="0" r="10.4" fill="#000"/><text x="0" y="4.9" text-anchor="middle" font-family='"Liberation Sans",sans-serif' font-size="14.9" letter-spacing="-0.9" transform="scale(0.915,1)" fill="#19e619" opacity="0.999">20</text></svg>
<svg class="abs" style="left:1580px;top:653px" width="50" height="48" viewBox="-24.00 -23.05 50 48"><g transform="rotate(22.5)"><path d="M0,-19.4 L6.9,-13.2 L2,-13.2 L2,-8 L-2,-8 L-2,-13.2 L-6.9,-13.2 Z" fill="#000"/></g><circle cx="0" cy="0" r="10.4" fill="#000"/><text x="0" y="4.9" text-anchor="middle" font-family='"Liberation Sans",sans-serif' font-size="14.9" letter-spacing="-0.9" transform="scale(0.915,1)" fill="#19e619" opacity="0.999">20</text></svg>
<svg class="abs" style="left:1640px;top:653px" width="50" height="48" viewBox="-24.00 -23.05 50 48"><g transform="rotate(0)"><path d="M0,-19.4 L6.9,-13.2 L2,-13.2 L2,-8 L-2,-8 L-2,-13.2 L-6.9,-13.2 Z" fill="#000"/></g><circle cx="0" cy="0" r="10.4" fill="#000"/><text x="0" y="4.9" text-anchor="middle" font-family='"Liberation Sans",sans-serif' font-size="14.9" letter-spacing="-0.9" transform="scale(0.915,1)" fill="#19e619" opacity="0.999">20</text></svg>
<svg class="abs" style="left:1700px;top:653px" width="50" height="48" viewBox="-24.00 -23.05 50 48"><g transform="rotate(337.5)"><path d="M0,-19.4 L6.9,-13.2 L2,-13.2 L2,-8 L-2,-8 L-2,-13.2 L-6.9,-13.2 Z" fill="#000"/></g><circle cx="0" cy="0" r="10.4" fill="#000"/><text x="0" y="4.9" text-anchor="middle" font-family='"Liberation Sans",sans-serif' font-size="14.9" letter-spacing="-0.9" transform="scale(0.915,1)" fill="#fff" opacity="0.999">15</text></svg>
<div class="abs" style="left:70px;top:699px;width:1682px;height:60px;background:#fff"></div>
<div class="abs" style="left:0;top:698px;width:1752px;height:1px;background:#efefef"></div>
<svg class="abs" style="left:70px;top:700px" width="59" height="59" viewBox="0 0 59 59" preserveAspectRatio="none"><use href="#w_pcd" width="59" height="59"/></svg>
<svg class="abs" style="left:131px;top:700px" width="59" height="59" viewBox="0 0 59 59" preserveAspectRatio="none"><use href="#w_cld" width="59" height="59"/></svg>
<svg class="abs" style="left:191px;top:700px" width="59" height="59" viewBox="0 0 59 59" preserveAspectRatio="none"><use href="#w_sun" width="59" height="59"/></svg>
<svg class="abs" style="left:251px;top:700px" width="59" height="59" viewBox="0 0 59 59" preserveAspectRatio="none"><use href="#w_ncl" width="59" height="59"/></svg>
<svg class="abs" style="left:311px;top:700px" width="59" height="59" viewBox="0 0 59 59" preserveAspectRatio="none"><use href="#w_ncl" width="59" height="59"/></svg>
<svg class="abs" style="left:371px;top:700px" width="59" height="59" viewBox="0 0 59 59" preserveAspectRatio="none"><use href="#w_sun" width="59" height="59"/></svg>
<svg class="abs" style="left:431px;top:700px" width="59" height="59" viewBox="0 0 59 59" preserveAspectRatio="none"><use href="#w_sun" width="59" height="59"/></svg>
<svg class="abs" style="left:491px;top:700px" width="59" height="59" viewBox="0 0 59 59" preserveAspectRatio="none"><use href="#w_ngt" width="59" height="59"/></svg>
<svg class="abs" style="left:551px;top:700px" width="59" height="59" viewBox="0 0 59 59" preserveAspectRatio="none"><use href="#w_ngt" width="59" height="59"/></svg>
<svg class="abs" style="left:611px;top:700px" width="59" height="59" viewBox="0 0 59 59" preserveAspectRatio="none"><use href="#w_sun" width="59" height="59"/></svg>
<svg class="abs" style="left:671px;top:700px" width="59" height="59" viewBox="0 0 59 59" preserveAspectRatio="none"><use href="#w_sun" width="59" height="59"/></svg>
<svg class="abs" style="left:731px;top:700px" width="59" height="59" viewBox="0 0 59 59" preserveAspectRatio="none"><use href="#w_ngt" width="59" height="59"/></svg>
<svg class="abs" style="left:791px;top:700px" width="59" height="59" viewBox="0 0 59 59" preserveAspectRatio="none"><use href="#w_ngt" width="59" height="59"/></svg>
<svg class="abs" style="left:851px;top:700px" width="59" height="59" viewBox="0 0 59 59" preserveAspectRatio="none"><use href="#w_sun" width="59" height="59"/></svg>
<svg class="abs" style="left:911px;top:700px" width="59" height="59" viewBox="0 0 59 59" preserveAspectRatio="none"><use href="#w_sun" width="59" height="59"/></svg>
<svg class="abs" style="left:971px;top:700px" width="59" height="59" viewBox="0 0 59 59" preserveAspectRatio="none"><use href="#w_ngt" width="59" height="59"/></svg>
<svg class="abs" style="left:1031px;top:700px" width="59" height="59" viewBox="0 0 59 59" preserveAspectRatio="none"><use href="#w_ngt" width="59" height="59"/></svg>
<svg class="abs" style="left:1091px;top:700px" width="59" height="59" viewBox="0 0 59 59" preserveAspectRatio="none"><use href="#w_cld" width="59" height="59"/></svg>
<svg class="abs" style="left:1151px;top:700px" width="59" height="59" viewBox="0 0 59 59" preserveAspectRatio="none"><use href="#w_pcd" width="59" height="59"/></svg>
<svg class="abs" style="left:1211px;top:700px" width="59" height="59" viewBox="0 0 59 59" preserveAspectRatio="none"><use href="#w_ncl" width="59" height="59"/></svg>
<svg class="abs" style="left:1271px;top:700px" width="59" height="59" viewBox="0 0 59 59" preserveAspectRatio="none"><use href="#w_ncl" width="59" height="59"/></svg>
<svg class="abs" style="left:1331px;top:700px" width="59" height="59" viewBox="0 0 59 59" preserveAspectRatio="none"><use href="#w_rn" width="59" height="59"/></svg>
<svg class="abs" style="left:1391px;top:700px" width="59" height="59" viewBox="0 0 59 59" preserveAspectRatio="none"><use href="#w_rn" width="59" height="59"/></svg>
<svg class="abs" style="left:1451px;top:700px" width="59" height="59" viewBox="0 0 59 59" preserveAspectRatio="none"><use href="#w_ncl" width="59" height="59"/></svg>
<svg class="abs" style="left:1513px;top:700px" width="59" height="59" viewBox="0 0 59 59" preserveAspectRatio="none"><use href="#w_ncl" width="59" height="59"/></svg>
<svg class="abs" style="left:1575px;top:700px" width="59" height="59" viewBox="0 0 59 59" preserveAspectRatio="none"><use href="#w_cld" width="59" height="59"/></svg>
<svg class="abs" style="left:1635px;top:700px" width="59" height="59" viewBox="0 0 59 59" preserveAspectRatio="none"><use href="#w_pcd" width="59" height="59"/></svg>
<svg class="abs" style="left:1695px;top:700px" width="59" height="59" viewBox="0 0 59 59" preserveAspectRatio="none"><use href="#w_ncl" width="59" height="59"/></svg>
<div class="abs" style="left:0;top:758px;width:69px;height:1px;background:#34587a"></div>
<div class="abs" style="left:70px;top:759px;width:59px;height:1px;background:#34587a"></div>
<div class="abs" style="left:131px;top:759px;width:59px;height:1px;background:#34587a"></div>
<div class="abs" style="left:191px;top:759px;width:59px;height:1px;background:#34587a"></div>
<div class="abs" style="left:251px;top:759px;width:59px;height:1px;background:#34587a"></div>
<div class="abs" style="left:311px;top:759px;width:59px;height:1px;background:#34587a"></div>
<div class="abs" style="left:371px;top:759px;width:59px;height:1px;background:#34587a"></div>
<div class="abs" style="left:431px;top:759px;width:59px;height:1px;background:#34587a"></div>
<div class="abs" style="left:491px;top:759px;width:59px;height:1px;background:#34587a"></div>
<div class="abs" style="left:551px;top:759px;width:59px;height:1px;background:#34587a"></div>
<div class="abs" style="left:611px;top:759px;width:59px;height:1px;background:#34587a"></div>
<div class="abs" style="left:671px;top:759px;width:59px;height:1px;background:#34587a"></div>
<div class="abs" style="left:731px;top:759px;width:59px;height:1px;background:#34587a"></div>
<div class="abs" style="left:791px;top:759px;width:59px;height:1px;background:#34587a"></div>
<div class="abs" style="left:851px;top:759px;width:59px;height:1px;background:#34587a"></div>
<div class="abs" style="left:911px;top:759px;width:59px;height:1px;background:#34587a"></div>
<div class="abs" style="left:971px;top:759px;width:59px;height:1px;background:#34587a"></div>
<div class="abs" style="left:1031px;top:759px;width:59px;height:1px;background:#34587a"></div>
<div class="abs" style="left:1091px;top:759px;width:59px;height:1px;background:#34587a"></div>
<div class="abs" style="left:1151px;top:759px;width:59px;height:1px;background:#34587a"></div>
<div class="abs" style="left:1211px;top:759px;width:59px;height:1px;background:#34587a"></div>
<div class="abs" style="left:1271px;top:759px;width:59px;height:1px;background:#34587a"></div>
<div class="abs" style="left:1331px;top:759px;width:59px;height:1px;background:#34587a"></div>
<div class="abs" style="left:1391px;top:759px;width:59px;height:1px;background:#34587a"></div>
<div class="abs" style="left:1451px;top:759px;width:59px;height:1px;background:#34587a"></div>
<div class="abs" style="left:1511px;top:759px;width:63px;height:1px;background:#34587a"></div>
<div class="abs" style="left:1575px;top:759px;width:59px;height:1px;background:#34587a"></div>
<div class="abs" style="left:1635px;top:759px;width:59px;height:1px;background:#34587a"></div>
<div class="abs" style="left:1695px;top:759px;width:59px;height:1px;background:#34587a"></div>
<div class="abs" style="left:130px;top:409px;width:1px;height:291px;background:#ececec"></div>
<div class="abs" style="left:190px;top:409px;width:1px;height:291px;background:#ececec"></div>
<div class="abs" style="left:250px;top:409px;width:1px;height:291px;background:#ececec"></div>
<div class="abs" style="left:310px;top:409px;width:1px;height:350px;background:#7c8085"></div>
<div class="abs" style="left:370px;top:409px;width:1px;height:291px;background:#ececec"></div>
<div class="abs" style="left:430px;top:409px;width:1px;height:291px;background:#ececec"></div>
<div class="abs" style="left:490px;top:409px;width:1px;height:291px;background:#ececec"></div>
<div class="abs" style="left:550px;top:409px;width:1px;height:350px;background:#7c8085"></div>
<div class="abs" style="left:610px;top:409px;width:1px;height:291px;background:#ececec"></div>
<div class="abs" style="left:670px;top:409px;width:1px;height:291px;background:#ececec"></div>
<div class="abs" style="left:730px;top:409px;width:1px;height:291px;background:#ececec"></div>
<div class="abs" style="left:790px;top:409px;width:1px;height:350px;background:#7c8085"></div>
<div class="abs" style="left:850px;top:409px;width:1px;height:291px;background:#ececec"></div>
<div class="abs" style="left:910px;top:409px;width:1px;height:291px;background:#ececec"></div>
<div class="abs" style="left:970px;top:409px;width:1px;height:291px;background:#ececec"></div>
<div class="abs" style="left:1030px;top:409px;width:1px;height:350px;background:#7c8085"></div>
<div class="abs" style="left:1090px;top:409px;width:1px;height:291px;background:#ececec"></div>
<div class="abs" style="left:1150px;top:409px;width:1px;height:291px;background:#ececec"></div>
<div class="abs" style="left:1210px;top:409px;width:1px;height:291px;background:#ececec"></div>
<div class="abs" style="left:1270px;top:409px;width:1px;height:350px;background:#7c8085"></div>
<div class="abs" style="left:1330px;top:409px;width:1px;height:291px;background:#ececec"></div>
<div class="abs" style="left:1390px;top:409px;width:1px;height:291px;background:#ececec"></div>
<div class="abs" style="left:1450px;top:409px;width:1px;height:291px;background:#ececec"></div>
<div class="abs" style="left:1510px;top:409px;width:1px;height:350px;background:#7c8085"></div>
<div class="abs" style="left:1574px;top:409px;width:1px;height:291px;background:#ececec"></div>
<div class="abs" style="left:1634px;top:409px;width:1px;height:291px;background:#ececec"></div>
<div class="abs" style="left:1694px;top:409px;width:1px;height:291px;background:#ececec"></div>
<div class="abs" style="left:69px;top:122px;width:1px;height:665px;background:#808080"></div>
<div class="abs" style="left:70px;top:760px;width:1682px;height:27px;background:#fafafa"></div>
<div class="abs" style="left:0;top:759px;width:69px;height:28px;background:#fafafa"></div>
<div class="t" style="left:1441.5px;top:26.3px;font-size:15px;color:#e9e9e9;letter-spacing:0.48px">Powered by Tide-Forecast.com</div><svg class="abs" style="left:1669.0px;top:25.900000000000002px" width="54" height="17" viewBox="0 0 54 17"><g fill="#e6e6e6"><rect x="0" y="0.5" width="16" height="15.5"/><rect x="18.7" y="0.5" width="15.5" height="15.5"/><rect x="37.2" y="0.5" width="15.8" height="15.5"/></g><path d="M1,14 C3,14 3.4,2 5.4,2 C7.4,2 7.6,14 9.6,14 C11.6,14 11.8,2 13.6,2 C14.6,2 15,6 15.5,9" fill="none" stroke="#f5f5f5" stroke-width="1.3"/><path d="M21.5,5.5 H27.5 V10.5 M24.8,9 L27.5,12.4 L30.2,9" fill="none" stroke="#f5f5f5" stroke-width="1.6"/><path d="M45.1,2 L42,14.5 H48.2 Z" fill="#f5f5f5"/></svg>
<div class="abs" style="left:70px;top:760px;width:1682px;height:27px;overflow:hidden">
<div class="t" style="left:-45px;top:5.8px;font-size:15px;color:#e3e3e3;letter-spacing:0.48px">Powered by Tide-Forecast.com</div><svg class="abs" style="left:182.5px;top:5.3999999999999995px" width="54" height="17" viewBox="0 0 54 17"><g fill="#e2e2e2"><rect x="0" y="0.5" width="16" height="15.5"/><rect x="18.7" y="0.5" width="15.5" height="15.5"/><rect x="37.2" y="0.5" width="15.8" height="15.5"/></g><path d="M1,14 C3,14 3.4,2 5.4,2 C7.4,2 7.6,14 9.6,14 C11.6,14 11.8,2 13.6,2 C14.6,2 15,6 15.5,9" fill="none" stroke="#fafafa" stroke-width="1.3"/><path d="M21.5,5.5 H27.5 V10.5 M24.8,9 L27.5,12.4 L30.2,9" fill="none" stroke="#fafafa" stroke-width="1.6"/><path d="M45.1,2 L42,14.5 H48.2 Z" fill="#fafafa"/></svg>
<div class="t" style="left:295px;top:5.8px;font-size:15px;color:#e3e3e3;letter-spacing:0.48px">Powered by Tide-Forecast.com</div><svg class="abs" style="left:522.5px;top:5.3999999999999995px" width="54" height="17" viewBox="0 0 54 17"><g fill="#e2e2e2"><rect x="0" y="0.5" width="16" height="15.5"/><rect x="18.7" y="0.5" width="15.5" height="15.5"/><rect x="37.2" y="0.5" width="15.8" height="15.5"/></g><path d="M1,14 C3,14 3.4,2 5.4,2 C7.4,2 7.6,14 9.6,14 C11.6,14 11.8,2 13.6,2 C14.6,2 15,6 15.5,9" fill="none" stroke="#fafafa" stroke-width="1.3"/><path d="M21.5,5.5 H27.5 V10.5 M24.8,9 L27.5,12.4 L30.2,9" fill="none" stroke="#fafafa" stroke-width="1.6"/><path d="M45.1,2 L42,14.5 H48.2 Z" fill="#fafafa"/></svg>
<div class="t" style="left:635px;top:5.8px;font-size:15px;color:#e3e3e3;letter-spacing:0.48px">Powered by Tide-Forecast.com</div><svg class="abs" style="left:862.5px;top:5.3999999999999995px" width="54" height="17" viewBox="0 0 54 17"><g fill="#e2e2e2"><rect x="0" y="0.5" width="16" height="15.5"/><rect x="18.7" y="0.5" width="15.5" height="15.5"/><rect x="37.2" y="0.5" width="15.8" height="15.5"/></g><path d="M1,14 C3,14 3.4,2 5.4,2 C7.4,2 7.6,14 9.6,14 C11.6,14 11.8,2 13.6,2 C14.6,2 15,6 15.5,9" fill="none" stroke="#fafafa" stroke-width="1.3"/><path d="M21.5,5.5 H27.5 V10.5 M24.8,9 L27.5,12.4 L30.2,9" fill="none" stroke="#fafafa" stroke-width="1.6"/><path d="M45.1,2 L42,14.5 H48.2 Z" fill="#fafafa"/></svg>
<div class="t" style="left:975px;top:5.8px;font-size:15px;color:#e3e3e3;letter-spacing:0.48px">Powered by Tide-Forecast.com</div><svg class="abs" style="left:1202.5px;top:5.3999999999999995px" width="54" height="17" viewBox="0 0 54 17"><g fill="#e2e2e2"><rect x="0" y="0.5" width="16" height="15.5"/><rect x="18.7" y="0.5" width="15.5" height="15.5"/><rect x="37.2" y="0.5" width="15.8" height="15.5"/></g><path d="M1,14 C3,14 3.4,2 5.4,2 C7.4,2 7.6,14 9.6,14 C11.6,14 11.8,2 13.6,2 C14.6,2 15,6 15.5,9" fill="none" stroke="#fafafa" stroke-width="1.3"/><path d="M21.5,5.5 H27.5 V10.5 M24.8,9 L27.5,12.4 L30.2,9" fill="none" stroke="#fafafa" stroke-width="1.6"/><path d="M45.1,2 L42,14.5 H48.2 Z" fill="#fafafa"/></svg>
<div class="t" style="left:1315px;top:5.8px;font-size:15px;color:#e3e3e3;letter-spacing:0.48px">Powered by Tide-Forecast.com</div><svg class="abs" style="left:1542.5px;top:5.3999999999999995px" width="54" height="17" viewBox="0 0 54 17"><g fill="#e2e2e2"><rect x="0" y="0.5" width="16" height="15.5"/><rect x="18.7" y="0.5" width="15.5" height="15.5"/><rect x="37.2" y="0.5" width="15.8" height="15.5"/></g><path d="M1,14 C3,14 3.4,2 5.4,2 C7.4,2 7.6,14 9.6,14 C11.6,14 11.8,2 13.6,2 C14.6,2 15,6 15.5,9" fill="none" stroke="#fafafa" stroke-width="1.3"/><path d="M21.5,5.5 H27.5 V10.5 M24.8,9 L27.5,12.4 L30.2,9" fill="none" stroke="#fafafa" stroke-width="1.6"/><path d="M45.1,2 L42,14.5 H48.2 Z" fill="#fafafa"/></svg>
<div class="t" style="left:1655px;top:5.8px;font-size:15px;color:#e3e3e3;letter-spacing:0.48px">Powered by Tide-Forecast.com</div><svg class="abs" style="left:1882.5px;top:5.3999999999999995px" width="54" height="17" viewBox="0 0 54 17"><g fill="#e2e2e2"><rect x="0" y="0.5" width="16" height="15.5"/><rect x="18.7" y="0.5" width="15.5" height="15.5"/><rect x="37.2" y="0.5" width="15.8" height="15.5"/></g><path d="M1,14 C3,14 3.4,2 5.4,2 C7.4,2 7.6,14 9.6,14 C11.6,14 11.8,2 13.6,2 C14.6,2 15,6 15.5,9" fill="none" stroke="#fafafa" stroke-width="1.3"/><path d="M21.5,5.5 H27.5 V10.5 M24.8,9 L27.5,12.4 L30.2,9" fill="none" stroke="#fafafa" stroke-width="1.6"/><path d="M45.1,2 L42,14.5 H48.2 Z" fill="#fafafa"/></svg>
<div class="t" style="left:1995px;top:5.8px;font-size:15px;color:#e3e3e3;letter-spacing:0.48px">Powered by Tide-Forecast.com</div><svg class="abs" style="left:2222.5px;top:5.3999999999999995px" width="54" height="17" viewBox="0 0 54 17"><g fill="#e2e2e2"><rect x="0" y="0.5" width="16" height="15.5"/><rect x="18.7" y="0.5" width="15.5" height="15.5"/><rect x="37.2" y="0.5" width="15.8" height="15.5"/></g><path d="M1,14 C3,14 3.4,2 5.4,2 C7.4,2 7.6,14 9.6,14 C11.6,14 11.8,2 13.6,2 C14.6,2 15,6 15.5,9" fill="none" stroke="#fafafa" stroke-width="1.3"/><path d="M21.5,5.5 H27.5 V10.5 M24.8,9 L27.5,12.4 L30.2,9" fill="none" stroke="#fafafa" stroke-width="1.6"/><path d="M45.1,2 L42,14.5 H48.2 Z" fill="#fafafa"/></svg>
</div>
</body></html>
